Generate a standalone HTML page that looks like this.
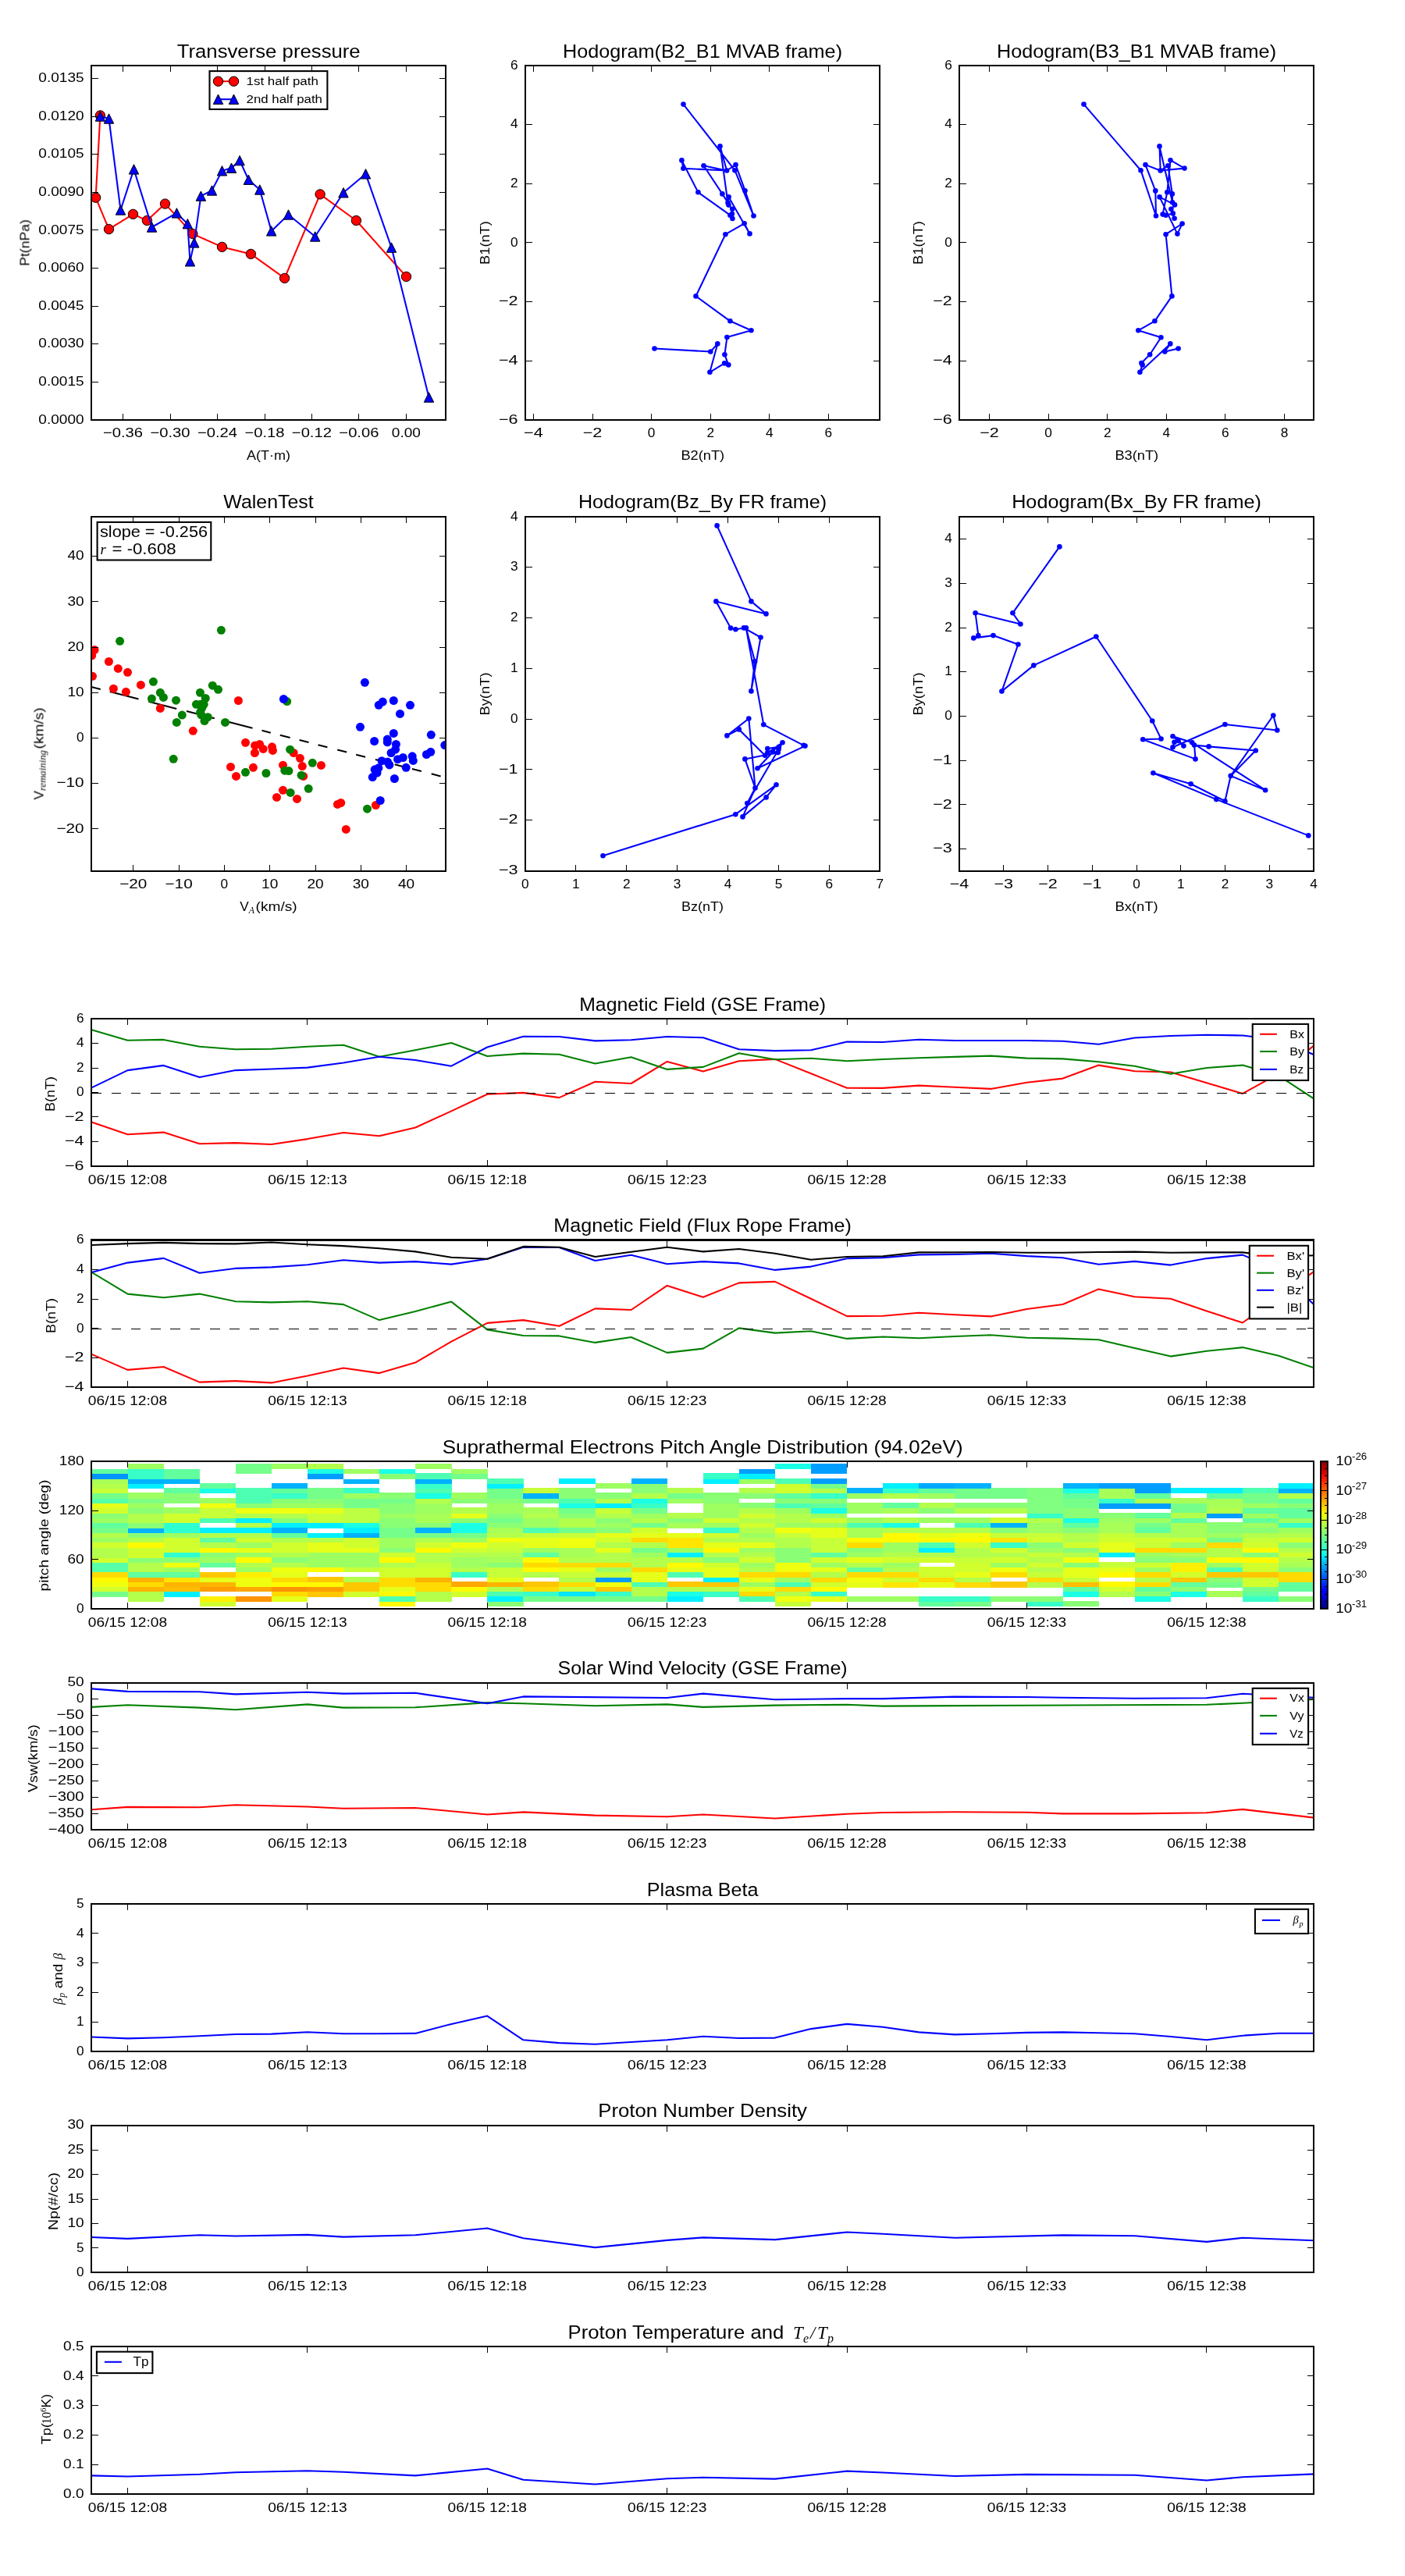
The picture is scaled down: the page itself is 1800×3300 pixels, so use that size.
<!DOCTYPE html>
<html><head><meta charset="utf-8"><title>Flux rope event</title>
<style>html,body{margin:0;padding:0;background:#fff}svg{display:block;will-change:transform}text{font-family:"Liberation Sans",sans-serif;fill:#000}</style>
</head><body>
<svg width="1800" height="3300" viewBox="0 0 1800 3300">
<rect width="1800" height="3300" fill="#fff"/>
<g opacity="0.999">
<defs>
<clipPath id="c1"><rect x="117.24" y="84" width="453.65999999999997" height="453.9"/></clipPath>
<clipPath id="c2"><rect x="673.2" y="84" width="453.64999999999986" height="453.9"/></clipPath>
<clipPath id="c3"><rect x="1229.35" y="84" width="453.6500000000001" height="453.9"/></clipPath>
<clipPath id="c4"><rect x="117.24" y="661.9" width="453.65999999999997" height="454.0000000000001"/></clipPath>
<clipPath id="c5"><rect x="673.2" y="661.9" width="453.64999999999986" height="454.0000000000001"/></clipPath>
<clipPath id="c6"><rect x="1229.35" y="661.9" width="453.6500000000001" height="454.0000000000001"/></clipPath>
</defs>
<g id="p1">
<g clip-path="url(#c1)">
<polyline points="128.4,147.9 122.6,253.2 139.5,293.6 170.5,274.4 188.4,282.5 211.5,261.1 246.9,299.6 284.5,316.4 321.4,325.4 364.6,356.4 410.1,248.9 456.4,282.5 520.5,354.4" fill="none" stroke="#f00" stroke-width="2.08" stroke-linejoin="round"/>
<circle cx="128.4" cy="147.9" r="6.2" fill="#f00" stroke="#000" stroke-width="1"/>
<circle cx="122.6" cy="253.2" r="6.2" fill="#f00" stroke="#000" stroke-width="1"/>
<circle cx="139.5" cy="293.6" r="6.2" fill="#f00" stroke="#000" stroke-width="1"/>
<circle cx="170.5" cy="274.4" r="6.2" fill="#f00" stroke="#000" stroke-width="1"/>
<circle cx="188.4" cy="282.5" r="6.2" fill="#f00" stroke="#000" stroke-width="1"/>
<circle cx="211.5" cy="261.1" r="6.2" fill="#f00" stroke="#000" stroke-width="1"/>
<circle cx="246.9" cy="299.6" r="6.2" fill="#f00" stroke="#000" stroke-width="1"/>
<circle cx="284.5" cy="316.4" r="6.2" fill="#f00" stroke="#000" stroke-width="1"/>
<circle cx="321.4" cy="325.4" r="6.2" fill="#f00" stroke="#000" stroke-width="1"/>
<circle cx="364.6" cy="356.4" r="6.2" fill="#f00" stroke="#000" stroke-width="1"/>
<circle cx="410.1" cy="248.9" r="6.2" fill="#f00" stroke="#000" stroke-width="1"/>
<circle cx="456.4" cy="282.5" r="6.2" fill="#f00" stroke="#000" stroke-width="1"/>
<circle cx="520.5" cy="354.4" r="6.2" fill="#f00" stroke="#000" stroke-width="1"/>
<polyline points="128.4,149.0 139.5,152.0 154.5,269.0 171.5,216.9 194.6,291.0 226.4,272.9 240.3,286.7 243.5,334.8 248.8,310.9 257.4,251.1 271.5,244.0 284.5,218.8 296.5,215.2 307.1,205.6 318.4,230.2 332.8,243.0 347.7,295.9 369.5,275.0 403.7,303.0 440.0,246.8 468.5,222.8 501.5,317.1 549.5,509.0" fill="none" stroke="#00f" stroke-width="2.08" stroke-linejoin="round"/>
<path d="M128.4 142.8l6.2 12.4h-12.4z" fill="#00f" stroke="#000" stroke-width="1"/>
<path d="M139.5 145.8l6.2 12.4h-12.4z" fill="#00f" stroke="#000" stroke-width="1"/>
<path d="M154.5 262.8l6.2 12.4h-12.4z" fill="#00f" stroke="#000" stroke-width="1"/>
<path d="M171.5 210.7l6.2 12.4h-12.4z" fill="#00f" stroke="#000" stroke-width="1"/>
<path d="M194.6 284.8l6.2 12.4h-12.4z" fill="#00f" stroke="#000" stroke-width="1"/>
<path d="M226.4 266.7l6.2 12.4h-12.4z" fill="#00f" stroke="#000" stroke-width="1"/>
<path d="M240.3 280.5l6.2 12.4h-12.4z" fill="#00f" stroke="#000" stroke-width="1"/>
<path d="M243.5 328.6l6.2 12.4h-12.4z" fill="#00f" stroke="#000" stroke-width="1"/>
<path d="M248.8 304.7l6.2 12.4h-12.4z" fill="#00f" stroke="#000" stroke-width="1"/>
<path d="M257.4 244.9l6.2 12.4h-12.4z" fill="#00f" stroke="#000" stroke-width="1"/>
<path d="M271.5 237.8l6.2 12.4h-12.4z" fill="#00f" stroke="#000" stroke-width="1"/>
<path d="M284.5 212.6l6.2 12.4h-12.4z" fill="#00f" stroke="#000" stroke-width="1"/>
<path d="M296.5 209.0l6.2 12.4h-12.4z" fill="#00f" stroke="#000" stroke-width="1"/>
<path d="M307.1 199.4l6.2 12.4h-12.4z" fill="#00f" stroke="#000" stroke-width="1"/>
<path d="M318.4 224.0l6.2 12.4h-12.4z" fill="#00f" stroke="#000" stroke-width="1"/>
<path d="M332.8 236.8l6.2 12.4h-12.4z" fill="#00f" stroke="#000" stroke-width="1"/>
<path d="M347.7 289.7l6.2 12.4h-12.4z" fill="#00f" stroke="#000" stroke-width="1"/>
<path d="M369.5 268.8l6.2 12.4h-12.4z" fill="#00f" stroke="#000" stroke-width="1"/>
<path d="M403.7 296.8l6.2 12.4h-12.4z" fill="#00f" stroke="#000" stroke-width="1"/>
<path d="M440.0 240.6l6.2 12.4h-12.4z" fill="#00f" stroke="#000" stroke-width="1"/>
<path d="M468.5 216.6l6.2 12.4h-12.4z" fill="#00f" stroke="#000" stroke-width="1"/>
<path d="M501.5 310.9l6.2 12.4h-12.4z" fill="#00f" stroke="#000" stroke-width="1"/>
<path d="M549.5 502.8l6.2 12.4h-12.4z" fill="#00f" stroke="#000" stroke-width="1"/>
</g>
<path d="M157.5 537.9v-8.3M157.5 84.0v8.3M218.0 537.9v-8.3M218.0 84.0v8.3M278.5 537.9v-8.3M278.5 84.0v8.3M339.0 537.9v-8.3M339.0 84.0v8.3M399.4 537.9v-8.3M399.4 84.0v8.3M459.9 537.9v-8.3M459.9 84.0v8.3M520.4 537.9v-8.3M520.4 84.0v8.3M117.2 537.9h8.3M570.9 537.9h-8.3M117.2 489.3h8.3M570.9 489.3h-8.3M117.2 440.7h8.3M570.9 440.7h-8.3M117.2 392.1h8.3M570.9 392.1h-8.3M117.2 343.5h8.3M570.9 343.5h-8.3M117.2 294.9h8.3M570.9 294.9h-8.3M117.2 246.3h8.3M570.9 246.3h-8.3M117.2 197.7h8.3M570.9 197.7h-8.3M117.2 149.1h8.3M570.9 149.1h-8.3M117.2 100.5h8.3M570.9 100.5h-8.3" stroke="#000" stroke-width="1" fill="none" shape-rendering="crispEdges"/>
<rect x="117.2" y="84.0" width="453.7" height="453.9" fill="none" stroke="#000" stroke-width="2.08" shape-rendering="crispEdges"/>
<text x="157.5" y="559.9" font-size="17.25" text-anchor="middle" textLength="51.1" lengthAdjust="spacingAndGlyphs">−0.36</text>
<text x="218.0" y="559.9" font-size="17.25" text-anchor="middle" textLength="51.1" lengthAdjust="spacingAndGlyphs">−0.30</text>
<text x="278.5" y="559.9" font-size="17.25" text-anchor="middle" textLength="51.1" lengthAdjust="spacingAndGlyphs">−0.24</text>
<text x="339.0" y="559.9" font-size="17.25" text-anchor="middle" textLength="51.1" lengthAdjust="spacingAndGlyphs">−0.18</text>
<text x="399.4" y="559.9" font-size="17.25" text-anchor="middle" textLength="51.1" lengthAdjust="spacingAndGlyphs">−0.12</text>
<text x="459.9" y="559.9" font-size="17.25" text-anchor="middle" textLength="51.1" lengthAdjust="spacingAndGlyphs">−0.06</text>
<text x="520.4" y="559.9" font-size="17.25" text-anchor="middle" textLength="37.1" lengthAdjust="spacingAndGlyphs">0.00</text>
<text x="107.6" y="542.6" font-size="17.25" text-anchor="end" textLength="58.3" lengthAdjust="spacingAndGlyphs">0.0000</text>
<text x="107.6" y="494.0" font-size="17.25" text-anchor="end" textLength="58.3" lengthAdjust="spacingAndGlyphs">0.0015</text>
<text x="107.6" y="445.4" font-size="17.25" text-anchor="end" textLength="58.3" lengthAdjust="spacingAndGlyphs">0.0030</text>
<text x="107.6" y="396.8" font-size="17.25" text-anchor="end" textLength="58.3" lengthAdjust="spacingAndGlyphs">0.0045</text>
<text x="107.6" y="348.2" font-size="17.25" text-anchor="end" textLength="58.3" lengthAdjust="spacingAndGlyphs">0.0060</text>
<text x="107.6" y="299.6" font-size="17.25" text-anchor="end" textLength="58.3" lengthAdjust="spacingAndGlyphs">0.0075</text>
<text x="107.6" y="251.0" font-size="17.25" text-anchor="end" textLength="58.3" lengthAdjust="spacingAndGlyphs">0.0090</text>
<text x="107.6" y="202.4" font-size="17.25" text-anchor="end" textLength="58.3" lengthAdjust="spacingAndGlyphs">0.0105</text>
<text x="107.6" y="153.8" font-size="17.25" text-anchor="end" textLength="58.3" lengthAdjust="spacingAndGlyphs">0.0120</text>
<text x="107.6" y="105.2" font-size="17.25" text-anchor="end" textLength="58.3" lengthAdjust="spacingAndGlyphs">0.0135</text>
<text x="344.2" y="73.7" font-size="23.72" text-anchor="middle" textLength="235.0" lengthAdjust="spacingAndGlyphs">Transverse pressure</text>
<text x="344.0" y="588.8" font-size="17.25" text-anchor="middle" textLength="56.1" lengthAdjust="spacingAndGlyphs">A(T·m)</text>
<text x="37.5" y="311.0" font-size="17.25" text-anchor="middle" transform="rotate(-90 37.5 311.0)" textLength="59.7" lengthAdjust="spacingAndGlyphs">Pt(nPa)</text>
<rect x="268.5" y="91.1" width="150.9" height="48.9" fill="#fff" stroke="#000" stroke-width="2.08"/>
<line x1="279.5" y1="104.2" x2="299.5" y2="104.2" stroke="#f00" stroke-width="2.08"/>
<circle cx="279.5" cy="104.2" r="6.2" fill="#f00" stroke="#000" stroke-width="1"/>
<circle cx="299.5" cy="104.2" r="6.2" fill="#f00" stroke="#000" stroke-width="1"/>
<line x1="279.5" y1="127.2" x2="299.5" y2="127.2" stroke="#00f" stroke-width="2.08"/>
<path d="M279.5 121.0l6.2 12.4h-12.4z" fill="#00f" stroke="#000" stroke-width="1"/>
<path d="M299.5 121.0l6.2 12.4h-12.4z" fill="#00f" stroke="#000" stroke-width="1"/>
<text x="315.5" y="108.7" font-size="15.09" textLength="92.4" lengthAdjust="spacingAndGlyphs">1st half path</text>
<text x="315.5" y="131.5" font-size="15.09" textLength="97.5" lengthAdjust="spacingAndGlyphs">2nd half path</text>
</g>
<g id="p2">
<g clip-path="url(#c2)">
<path d="M875.5 133.6L941.4 218.2L965.5 276.5L954.5 244.2L942.5 211.1L931.1 218.5L922.5 187.4L932.5 259.8M931.1 218.5L901.5 212.2L925.4 248.4L932.5 259.8L933.4 262.6L938.2 267.7L937.9 274.0L938.4 280.0M931.1 218.5L875.4 215.7L873.4 205.4L894.4 246.3L935.4 275.7L937.9 274.0M933.6 252.4L932.5 259.8M933.6 252.4L960.5 299.4L953.6 286.3L929.4 300.2L891.5 379.4L935.4 411.3L962.4 423.3L931.4 432.1L928.4 454.3L933.3 467.4L928.2 465.4L909.4 476.8L919.3 440.4L910.3 450.5L838.5 446.5" fill="none" stroke="#00f" stroke-width="2.08" stroke-linejoin="round" stroke-linecap="round"/>
<circle cx="875.5" cy="133.6" r="3.3" fill="#00f"/>
<circle cx="922.5" cy="187.4" r="3.3" fill="#00f"/>
<circle cx="873.4" cy="205.4" r="3.3" fill="#00f"/>
<circle cx="875.4" cy="215.7" r="3.3" fill="#00f"/>
<circle cx="901.5" cy="212.2" r="3.3" fill="#00f"/>
<circle cx="931.1" cy="218.5" r="3.3" fill="#00f"/>
<circle cx="942.5" cy="211.1" r="3.3" fill="#00f"/>
<circle cx="941.4" cy="218.2" r="3.3" fill="#00f"/>
<circle cx="954.5" cy="244.2" r="3.3" fill="#00f"/>
<circle cx="894.4" cy="246.3" r="3.3" fill="#00f"/>
<circle cx="925.4" cy="248.4" r="3.3" fill="#00f"/>
<circle cx="933.6" cy="252.4" r="3.3" fill="#00f"/>
<circle cx="932.5" cy="259.8" r="3.3" fill="#00f"/>
<circle cx="933.4" cy="262.6" r="3.3" fill="#00f"/>
<circle cx="938.2" cy="267.7" r="3.3" fill="#00f"/>
<circle cx="937.9" cy="274.0" r="3.3" fill="#00f"/>
<circle cx="935.4" cy="275.7" r="3.3" fill="#00f"/>
<circle cx="938.4" cy="280.0" r="3.3" fill="#00f"/>
<circle cx="965.5" cy="276.5" r="3.3" fill="#00f"/>
<circle cx="953.6" cy="286.3" r="3.3" fill="#00f"/>
<circle cx="960.5" cy="299.4" r="3.3" fill="#00f"/>
<circle cx="929.4" cy="300.2" r="3.3" fill="#00f"/>
<circle cx="891.5" cy="379.4" r="3.3" fill="#00f"/>
<circle cx="935.4" cy="411.3" r="3.3" fill="#00f"/>
<circle cx="962.4" cy="423.3" r="3.3" fill="#00f"/>
<circle cx="931.4" cy="432.1" r="3.3" fill="#00f"/>
<circle cx="928.4" cy="454.3" r="3.3" fill="#00f"/>
<circle cx="933.3" cy="467.4" r="3.3" fill="#00f"/>
<circle cx="928.2" cy="465.4" r="3.3" fill="#00f"/>
<circle cx="909.4" cy="476.8" r="3.3" fill="#00f"/>
<circle cx="919.3" cy="440.4" r="3.3" fill="#00f"/>
<circle cx="910.3" cy="450.5" r="3.3" fill="#00f"/>
<circle cx="838.5" cy="446.5" r="3.3" fill="#00f"/>
</g>
<path d="M683.4 537.9v-8.3M683.4 84.0v8.3M759.0 537.9v-8.3M759.0 84.0v8.3M834.6 537.9v-8.3M834.6 84.0v8.3M910.2 537.9v-8.3M910.2 84.0v8.3M985.8 537.9v-8.3M985.8 84.0v8.3M1061.4 537.9v-8.3M1061.4 84.0v8.3M673.2 84.0h8.3M1126.8 84.0h-8.3M673.2 159.6h8.3M1126.8 159.6h-8.3M673.2 235.3h8.3M1126.8 235.3h-8.3M673.2 310.9h8.3M1126.8 310.9h-8.3M673.2 386.6h8.3M1126.8 386.6h-8.3M673.2 462.2h8.3M1126.8 462.2h-8.3M673.2 537.9h8.3M1126.8 537.9h-8.3" stroke="#000" stroke-width="1" fill="none" shape-rendering="crispEdges"/>
<rect x="673.2" y="84.0" width="453.6" height="453.9" fill="none" stroke="#000" stroke-width="2.08" shape-rendering="crispEdges"/>
<text x="683.4" y="559.9" font-size="17.25" text-anchor="middle" textLength="24.6" lengthAdjust="spacingAndGlyphs">−4</text>
<text x="759.0" y="559.9" font-size="17.25" text-anchor="middle" textLength="24.6" lengthAdjust="spacingAndGlyphs">−2</text>
<text x="834.6" y="559.9" font-size="17.25" text-anchor="middle">0</text>
<text x="910.2" y="559.9" font-size="17.25" text-anchor="middle">2</text>
<text x="985.8" y="559.9" font-size="17.25" text-anchor="middle">4</text>
<text x="1061.4" y="559.9" font-size="17.25" text-anchor="middle">6</text>
<text x="663.6" y="88.7" font-size="17.25" text-anchor="end">6</text>
<text x="663.6" y="164.3" font-size="17.25" text-anchor="end">4</text>
<text x="663.6" y="240.0" font-size="17.25" text-anchor="end">2</text>
<text x="663.6" y="315.6" font-size="17.25" text-anchor="end">0</text>
<text x="663.6" y="391.3" font-size="17.25" text-anchor="end" textLength="24.6" lengthAdjust="spacingAndGlyphs">−2</text>
<text x="663.6" y="466.9" font-size="17.25" text-anchor="end" textLength="24.6" lengthAdjust="spacingAndGlyphs">−4</text>
<text x="663.6" y="542.6" font-size="17.25" text-anchor="end" textLength="24.6" lengthAdjust="spacingAndGlyphs">−6</text>
<text x="900.0" y="73.5" font-size="23.72" text-anchor="middle" textLength="358.1" lengthAdjust="spacingAndGlyphs">Hodogram(B2_B1 MVAB frame)</text>
<text x="900.3" y="588.8" font-size="17.25" text-anchor="middle" textLength="55.8" lengthAdjust="spacingAndGlyphs">B2(nT)</text>
<text x="627.0" y="311.0" font-size="17.25" text-anchor="middle" transform="rotate(-90 627.0 311.0)" textLength="55.8" lengthAdjust="spacingAndGlyphs">B1(nT)</text>
</g>
<g id="p3">
<g clip-path="url(#c3)">
<path d="M1388.5 133.6L1461.5 218.2L1481.0 276.5L1480.3 244.4L1467.5 211.1L1486.7 218.5L1485.5 187.4L1502.1 259.2M1486.7 218.5L1517.5 215.6L1499.5 205.2L1495.3 246.3L1489.6 274.6L1493.6 275.7M1486.7 218.5L1496.4 212.2L1501.8 248.4L1502.1 259.2L1505.0 262.4L1500.4 267.7L1502.7 273.4L1504.6 279.7M1493.6 275.7L1502.7 273.4M1485.6 252.4L1505.0 262.4M1485.6 252.4L1508.4 299.6L1514.6 286.5L1493.6 300.2L1501.4 379.4L1479.4 411.3L1458.3 423.3L1487.4 432.3L1473.1 454.3L1462.4 465.1L1463.6 467.4L1460.4 476.8L1499.3 440.4L1492.3 450.5L1509.6 446.5" fill="none" stroke="#00f" stroke-width="2.08" stroke-linejoin="round" stroke-linecap="round"/>
<circle cx="1388.5" cy="133.6" r="3.3" fill="#00f"/>
<circle cx="1461.5" cy="218.2" r="3.3" fill="#00f"/>
<circle cx="1481.0" cy="276.5" r="3.3" fill="#00f"/>
<circle cx="1480.3" cy="244.4" r="3.3" fill="#00f"/>
<circle cx="1467.5" cy="211.1" r="3.3" fill="#00f"/>
<circle cx="1486.7" cy="218.5" r="3.3" fill="#00f"/>
<circle cx="1485.5" cy="187.4" r="3.3" fill="#00f"/>
<circle cx="1496.4" cy="212.2" r="3.3" fill="#00f"/>
<circle cx="1499.5" cy="205.2" r="3.3" fill="#00f"/>
<circle cx="1517.5" cy="215.6" r="3.3" fill="#00f"/>
<circle cx="1495.3" cy="246.3" r="3.3" fill="#00f"/>
<circle cx="1501.8" cy="248.4" r="3.3" fill="#00f"/>
<circle cx="1485.6" cy="252.4" r="3.3" fill="#00f"/>
<circle cx="1502.1" cy="259.2" r="3.3" fill="#00f"/>
<circle cx="1505.0" cy="262.4" r="3.3" fill="#00f"/>
<circle cx="1500.4" cy="267.7" r="3.3" fill="#00f"/>
<circle cx="1502.7" cy="273.4" r="3.3" fill="#00f"/>
<circle cx="1489.6" cy="274.6" r="3.3" fill="#00f"/>
<circle cx="1493.6" cy="275.7" r="3.3" fill="#00f"/>
<circle cx="1504.6" cy="279.7" r="3.3" fill="#00f"/>
<circle cx="1514.6" cy="286.5" r="3.3" fill="#00f"/>
<circle cx="1508.4" cy="299.6" r="3.3" fill="#00f"/>
<circle cx="1493.6" cy="300.2" r="3.3" fill="#00f"/>
<circle cx="1501.4" cy="379.4" r="3.3" fill="#00f"/>
<circle cx="1479.4" cy="411.3" r="3.3" fill="#00f"/>
<circle cx="1458.3" cy="423.3" r="3.3" fill="#00f"/>
<circle cx="1487.4" cy="432.3" r="3.3" fill="#00f"/>
<circle cx="1473.1" cy="454.3" r="3.3" fill="#00f"/>
<circle cx="1462.4" cy="465.1" r="3.3" fill="#00f"/>
<circle cx="1463.6" cy="467.4" r="3.3" fill="#00f"/>
<circle cx="1460.4" cy="476.8" r="3.3" fill="#00f"/>
<circle cx="1499.3" cy="440.4" r="3.3" fill="#00f"/>
<circle cx="1492.3" cy="450.5" r="3.3" fill="#00f"/>
<circle cx="1509.6" cy="446.5" r="3.3" fill="#00f"/>
</g>
<path d="M1267.5 537.9v-8.3M1267.5 84.0v8.3M1343.1 537.9v-8.3M1343.1 84.0v8.3M1418.7 537.9v-8.3M1418.7 84.0v8.3M1494.3 537.9v-8.3M1494.3 84.0v8.3M1569.9 537.9v-8.3M1569.9 84.0v8.3M1645.5 537.9v-8.3M1645.5 84.0v8.3M1229.3 84.0h8.3M1683.0 84.0h-8.3M1229.3 159.6h8.3M1683.0 159.6h-8.3M1229.3 235.3h8.3M1683.0 235.3h-8.3M1229.3 310.9h8.3M1683.0 310.9h-8.3M1229.3 386.6h8.3M1683.0 386.6h-8.3M1229.3 462.2h8.3M1683.0 462.2h-8.3M1229.3 537.9h8.3M1683.0 537.9h-8.3" stroke="#000" stroke-width="1" fill="none" shape-rendering="crispEdges"/>
<rect x="1229.3" y="84.0" width="453.7" height="453.9" fill="none" stroke="#000" stroke-width="2.08" shape-rendering="crispEdges"/>
<text x="1267.5" y="559.9" font-size="17.25" text-anchor="middle" textLength="24.6" lengthAdjust="spacingAndGlyphs">−2</text>
<text x="1343.1" y="559.9" font-size="17.25" text-anchor="middle">0</text>
<text x="1418.7" y="559.9" font-size="17.25" text-anchor="middle">2</text>
<text x="1494.3" y="559.9" font-size="17.25" text-anchor="middle">4</text>
<text x="1569.9" y="559.9" font-size="17.25" text-anchor="middle">6</text>
<text x="1645.5" y="559.9" font-size="17.25" text-anchor="middle">8</text>
<text x="1219.8" y="88.7" font-size="17.25" text-anchor="end">6</text>
<text x="1219.8" y="164.3" font-size="17.25" text-anchor="end">4</text>
<text x="1219.8" y="240.0" font-size="17.25" text-anchor="end">2</text>
<text x="1219.8" y="315.6" font-size="17.25" text-anchor="end">0</text>
<text x="1219.8" y="391.3" font-size="17.25" text-anchor="end" textLength="24.6" lengthAdjust="spacingAndGlyphs">−2</text>
<text x="1219.8" y="466.9" font-size="17.25" text-anchor="end" textLength="24.6" lengthAdjust="spacingAndGlyphs">−4</text>
<text x="1219.8" y="542.6" font-size="17.25" text-anchor="end" textLength="24.6" lengthAdjust="spacingAndGlyphs">−6</text>
<text x="1456.0" y="73.5" font-size="23.72" text-anchor="middle" textLength="358.1" lengthAdjust="spacingAndGlyphs">Hodogram(B3_B1 MVAB frame)</text>
<text x="1456.3" y="588.8" font-size="17.25" text-anchor="middle" textLength="55.8" lengthAdjust="spacingAndGlyphs">B3(nT)</text>
<text x="1182.0" y="311.0" font-size="17.25" text-anchor="middle" transform="rotate(-90 1182.0 311.0)" textLength="55.8" lengthAdjust="spacingAndGlyphs">B1(nT)</text>
</g>
<g id="p4">
<g clip-path="url(#c4)">
<path d="M116.8 879.9L128.8 883.0M140.7 886.0L177.5 895.4M190.3 898.7L226.2 907.9M239.0 911.1L274.8 920.3M287.7 923.6L323.5 932.7M335.5 935.8L346.8 938.7M358.8 941.8L371.6 945.0M383.6 948.1L395.5 951.1M407.5 954.2L419.4 957.2M432.2 960.5L444.2 963.6M456.2 966.7L468.1 969.7M480.9 973.0L492.9 976.0M505.7 979.3L517.7 982.4M527.9 985.0L539.9 988.0M552.7 991.3L564.6 994.4" stroke="#000" stroke-width="2.08" fill="none"/>
<circle cx="121.1" cy="832.6" r="5.5" fill="#f00"/>
<circle cx="117.7" cy="839.8" r="5.5" fill="#f00"/>
<circle cx="118.5" cy="866.3" r="5.5" fill="#f00"/>
<circle cx="139.4" cy="847.5" r="5.5" fill="#f00"/>
<circle cx="151.3" cy="856.4" r="5.5" fill="#f00"/>
<circle cx="163.5" cy="861.3" r="5.5" fill="#f00"/>
<circle cx="180.4" cy="877.4" r="5.5" fill="#f00"/>
<circle cx="145.4" cy="882.2" r="5.5" fill="#f00"/>
<circle cx="161.4" cy="886.3" r="5.5" fill="#f00"/>
<circle cx="205.3" cy="907.4" r="5.5" fill="#f00"/>
<circle cx="305.4" cy="897.5" r="5.5" fill="#f00"/>
<circle cx="247.3" cy="936.3" r="5.5" fill="#f00"/>
<circle cx="314.5" cy="951.3" r="5.5" fill="#f00"/>
<circle cx="326.6" cy="955.1" r="5.5" fill="#f00"/>
<circle cx="332.6" cy="953.4" r="5.5" fill="#f00"/>
<circle cx="337.2" cy="959.4" r="5.5" fill="#f00"/>
<circle cx="326.4" cy="964.5" r="5.5" fill="#f00"/>
<circle cx="295.5" cy="982.4" r="5.5" fill="#f00"/>
<circle cx="324.4" cy="983.3" r="5.5" fill="#f00"/>
<circle cx="302.5" cy="994.4" r="5.5" fill="#f00"/>
<circle cx="348.5" cy="956.8" r="5.5" fill="#f00"/>
<circle cx="349.4" cy="961.4" r="5.5" fill="#f00"/>
<circle cx="376.2" cy="964.5" r="5.5" fill="#f00"/>
<circle cx="384.4" cy="971.3" r="5.5" fill="#f00"/>
<circle cx="387.3" cy="981.6" r="5.5" fill="#f00"/>
<circle cx="362.5" cy="980.2" r="5.5" fill="#f00"/>
<circle cx="411.4" cy="980.4" r="5.5" fill="#f00"/>
<circle cx="388.7" cy="994.4" r="5.5" fill="#f00"/>
<circle cx="362.5" cy="1012.3" r="5.5" fill="#f00"/>
<circle cx="354.5" cy="1021.4" r="5.5" fill="#f00"/>
<circle cx="380.5" cy="1023.4" r="5.5" fill="#f00"/>
<circle cx="432.4" cy="1030.4" r="5.5" fill="#f00"/>
<circle cx="436.7" cy="1028.5" r="5.5" fill="#f00"/>
<circle cx="481.4" cy="1031.5" r="5.5" fill="#f00"/>
<circle cx="443.3" cy="1062.4" r="5.5" fill="#f00"/>
<circle cx="153.6" cy="821.3" r="5.5" fill="#008000"/>
<circle cx="283.4" cy="807.3" r="5.5" fill="#008000"/>
<circle cx="196.4" cy="873.3" r="5.5" fill="#008000"/>
<circle cx="205.3" cy="887.3" r="5.5" fill="#008000"/>
<circle cx="209.4" cy="893.4" r="5.5" fill="#008000"/>
<circle cx="194.4" cy="895.1" r="5.5" fill="#008000"/>
<circle cx="225.5" cy="897.2" r="5.5" fill="#008000"/>
<circle cx="272.3" cy="878.2" r="5.5" fill="#008000"/>
<circle cx="279.5" cy="883.3" r="5.5" fill="#008000"/>
<circle cx="256.4" cy="887.3" r="5.5" fill="#008000"/>
<circle cx="263.2" cy="894.5" r="5.5" fill="#008000"/>
<circle cx="251.4" cy="902.3" r="5.5" fill="#008000"/>
<circle cx="256.9" cy="902.3" r="5.5" fill="#008000"/>
<circle cx="261.2" cy="902.3" r="5.5" fill="#008000"/>
<circle cx="258.6" cy="907.3" r="5.5" fill="#008000"/>
<circle cx="256.6" cy="912.4" r="5.5" fill="#008000"/>
<circle cx="257.8" cy="915.8" r="5.5" fill="#008000"/>
<circle cx="266.3" cy="918.7" r="5.5" fill="#008000"/>
<circle cx="262.0" cy="923.5" r="5.5" fill="#008000"/>
<circle cx="233.3" cy="916.1" r="5.5" fill="#008000"/>
<circle cx="226.3" cy="925.4" r="5.5" fill="#008000"/>
<circle cx="288.5" cy="925.4" r="5.5" fill="#008000"/>
<circle cx="222.2" cy="972.3" r="5.5" fill="#008000"/>
<circle cx="314.5" cy="989.3" r="5.5" fill="#008000"/>
<circle cx="371.6" cy="960.2" r="5.5" fill="#008000"/>
<circle cx="400.3" cy="977.3" r="5.5" fill="#008000"/>
<circle cx="364.8" cy="987.2" r="5.5" fill="#008000"/>
<circle cx="369.9" cy="987.6" r="5.5" fill="#008000"/>
<circle cx="340.9" cy="990.5" r="5.5" fill="#008000"/>
<circle cx="386.1" cy="993.2" r="5.5" fill="#008000"/>
<circle cx="395.2" cy="1010.3" r="5.5" fill="#008000"/>
<circle cx="372.1" cy="1015.4" r="5.5" fill="#008000"/>
<circle cx="367.7" cy="898.6" r="5.5" fill="#008000"/>
<circle cx="470.5" cy="1036.2" r="5.5" fill="#008000"/>
<circle cx="363.4" cy="895.5" r="5.5" fill="#00f"/>
<circle cx="467.4" cy="874.3" r="5.5" fill="#00f"/>
<circle cx="485.2" cy="903.3" r="5.5" fill="#00f"/>
<circle cx="490.3" cy="899.1" r="5.5" fill="#00f"/>
<circle cx="504.3" cy="897.5" r="5.5" fill="#00f"/>
<circle cx="525.5" cy="903.3" r="5.5" fill="#00f"/>
<circle cx="512.5" cy="914.4" r="5.5" fill="#00f"/>
<circle cx="461.5" cy="931.3" r="5.5" fill="#00f"/>
<circle cx="504.3" cy="939.4" r="5.5" fill="#00f"/>
<circle cx="552.3" cy="941.3" r="5.5" fill="#00f"/>
<circle cx="479.6" cy="949.5" r="5.5" fill="#00f"/>
<circle cx="496.3" cy="947.1" r="5.5" fill="#00f"/>
<circle cx="496.3" cy="950.8" r="5.5" fill="#00f"/>
<circle cx="507.4" cy="953.4" r="5.5" fill="#00f"/>
<circle cx="506.6" cy="960.2" r="5.5" fill="#00f"/>
<circle cx="501.1" cy="964.5" r="5.5" fill="#00f"/>
<circle cx="569.8" cy="954.6" r="5.5" fill="#00f"/>
<circle cx="551.8" cy="963.3" r="5.5" fill="#00f"/>
<circle cx="546.4" cy="966.5" r="5.5" fill="#00f"/>
<circle cx="528.2" cy="968.8" r="5.5" fill="#00f"/>
<circle cx="529.3" cy="974.4" r="5.5" fill="#00f"/>
<circle cx="516.3" cy="970.5" r="5.5" fill="#00f"/>
<circle cx="509.5" cy="972.7" r="5.5" fill="#00f"/>
<circle cx="489.1" cy="974.7" r="5.5" fill="#00f"/>
<circle cx="496.6" cy="976.1" r="5.5" fill="#00f"/>
<circle cx="498.9" cy="979.9" r="5.5" fill="#00f"/>
<circle cx="520.2" cy="983.3" r="5.5" fill="#00f"/>
<circle cx="484.9" cy="983.8" r="5.5" fill="#00f"/>
<circle cx="480.1" cy="985.8" r="5.5" fill="#00f"/>
<circle cx="483.1" cy="990.1" r="5.5" fill="#00f"/>
<circle cx="477.3" cy="995.6" r="5.5" fill="#00f"/>
<circle cx="505.4" cy="997.5" r="5.5" fill="#00f"/>
<circle cx="487.2" cy="1025.5" r="5.5" fill="#00f"/>
</g>
<path d="M170.8 1115.9v-8.3M170.8 661.9v8.3M229.1 1115.9v-8.3M229.1 661.9v8.3M287.4 1115.9v-8.3M287.4 661.9v8.3M345.7 1115.9v-8.3M345.7 661.9v8.3M404.0 1115.9v-8.3M404.0 661.9v8.3M462.3 1115.9v-8.3M462.3 661.9v8.3M520.6 1115.9v-8.3M520.6 661.9v8.3M117.2 712.6h8.3M570.9 712.6h-8.3M117.2 770.8h8.3M570.9 770.8h-8.3M117.2 829.0h8.3M570.9 829.0h-8.3M117.2 887.2h8.3M570.9 887.2h-8.3M117.2 945.4h8.3M570.9 945.4h-8.3M117.2 1003.6h8.3M570.9 1003.6h-8.3M117.2 1061.8h8.3M570.9 1061.8h-8.3" stroke="#000" stroke-width="1" fill="none" shape-rendering="crispEdges"/>
<rect x="117.2" y="661.9" width="453.7" height="454.0" fill="none" stroke="#000" stroke-width="2.08" shape-rendering="crispEdges"/>
<text x="170.8" y="1137.9" font-size="17.25" text-anchor="middle" textLength="35.2" lengthAdjust="spacingAndGlyphs">−20</text>
<text x="229.1" y="1137.9" font-size="17.25" text-anchor="middle" textLength="35.2" lengthAdjust="spacingAndGlyphs">−10</text>
<text x="287.4" y="1137.9" font-size="17.25" text-anchor="middle">0</text>
<text x="345.7" y="1137.9" font-size="17.25" text-anchor="middle" textLength="21.2" lengthAdjust="spacingAndGlyphs">10</text>
<text x="404.0" y="1137.9" font-size="17.25" text-anchor="middle" textLength="21.2" lengthAdjust="spacingAndGlyphs">20</text>
<text x="462.3" y="1137.9" font-size="17.25" text-anchor="middle" textLength="21.2" lengthAdjust="spacingAndGlyphs">30</text>
<text x="520.6" y="1137.9" font-size="17.25" text-anchor="middle" textLength="21.2" lengthAdjust="spacingAndGlyphs">40</text>
<text x="107.6" y="717.3" font-size="17.25" text-anchor="end" textLength="21.2" lengthAdjust="spacingAndGlyphs">40</text>
<text x="107.6" y="775.5" font-size="17.25" text-anchor="end" textLength="21.2" lengthAdjust="spacingAndGlyphs">30</text>
<text x="107.6" y="833.7" font-size="17.25" text-anchor="end" textLength="21.2" lengthAdjust="spacingAndGlyphs">20</text>
<text x="107.6" y="891.9" font-size="17.25" text-anchor="end" textLength="21.2" lengthAdjust="spacingAndGlyphs">10</text>
<text x="107.6" y="950.1" font-size="17.25" text-anchor="end">0</text>
<text x="107.6" y="1008.3" font-size="17.25" text-anchor="end" textLength="35.2" lengthAdjust="spacingAndGlyphs">−10</text>
<text x="107.6" y="1066.5" font-size="17.25" text-anchor="end" textLength="35.2" lengthAdjust="spacingAndGlyphs">−20</text>
<text x="344.0" y="651.4" font-size="23.72" text-anchor="middle" textLength="115.4" lengthAdjust="spacingAndGlyphs">WalenTest</text>
<rect x="124.6" y="668.9" width="145.7" height="48.6" fill="#fff" stroke="#000" stroke-width="2.08"/>
<text x="128.0" y="687.7" font-size="19.41" textLength="138.0" lengthAdjust="spacingAndGlyphs">slope = -0.256</text>
<text x="128.5" y="709.6" font-size="18.75" style="font-family:'Liberation Serif',serif" font-style="italic">r</text>
<text x="143.5" y="709.6" font-size="19.41" textLength="82.1" lengthAdjust="spacingAndGlyphs">= -0.608</text>
<text x="307.3" y="1166.6" font-size="17.25">V</text>
<text x="318.8" y="1170.0" font-size="11.70" style="font-family:'Liberation Serif',serif" font-style="italic">A</text>
<text x="327.5" y="1166.6" font-size="17.25" textLength="53.2" lengthAdjust="spacingAndGlyphs">(km/s)</text>
<g transform="rotate(-90 55.5 947)">
<text x="-22.0" y="947.0" font-size="17.25">V</text>
<text x="-10.5" y="950.4" font-size="11.70" style="font-family:'Liberation Serif',serif" font-style="italic" textLength="52.0" lengthAdjust="spacingAndGlyphs">remaining</text>
<text x="43.0" y="947.0" font-size="17.25" textLength="53.2" lengthAdjust="spacingAndGlyphs">(km/s)</text>
</g>
</g>
<g id="p5">
<g clip-path="url(#c5)">
<path d="M918.6 673.4L962.4 770.4L981.5 786.4L917.4 770.4L936.1 804.6L942.4 806.3L953.0 804.4L974.5 816.5L962.4 885.4L967.1 847.3L955.8 804.4L978.3 928.3L1029.6 954.9L1031.5 955.6L970.5 984.3L990.3 963.2L996.7 964.1L954.4 972.4L967.5 1009.5L959.3 920.5L931.4 942.4L946.8 934.4L980.1 967.7L983.3 959.0L998.0 956.8L983.3 964.5L1002.5 951.3L997.5 959.9L957.3 1029.1L967.5 1009.5L951.5 1046.4L981.6 1021.4L994.5 1005.3L942.3 1043.2L772.5 1096.2" fill="none" stroke="#00f" stroke-width="2.08" stroke-linejoin="round" stroke-linecap="round"/>
<circle cx="918.6" cy="673.4" r="3.3" fill="#00f"/>
<circle cx="962.4" cy="770.4" r="3.3" fill="#00f"/>
<circle cx="981.5" cy="786.4" r="3.3" fill="#00f"/>
<circle cx="917.4" cy="770.4" r="3.3" fill="#00f"/>
<circle cx="936.1" cy="804.6" r="3.3" fill="#00f"/>
<circle cx="942.4" cy="806.3" r="3.3" fill="#00f"/>
<circle cx="953.0" cy="804.4" r="3.3" fill="#00f"/>
<circle cx="955.8" cy="804.4" r="3.3" fill="#00f"/>
<circle cx="974.5" cy="816.5" r="3.3" fill="#00f"/>
<circle cx="967.1" cy="847.3" r="3.3" fill="#00f"/>
<circle cx="962.4" cy="885.4" r="3.3" fill="#00f"/>
<circle cx="978.3" cy="928.3" r="3.3" fill="#00f"/>
<circle cx="1029.6" cy="954.9" r="3.3" fill="#00f"/>
<circle cx="959.3" cy="920.5" r="3.3" fill="#00f"/>
<circle cx="946.8" cy="934.4" r="3.3" fill="#00f"/>
<circle cx="931.4" cy="942.4" r="3.3" fill="#00f"/>
<circle cx="1002.5" cy="951.3" r="3.3" fill="#00f"/>
<circle cx="998.0" cy="956.8" r="3.3" fill="#00f"/>
<circle cx="983.3" cy="959.0" r="3.3" fill="#00f"/>
<circle cx="996.7" cy="964.1" r="3.3" fill="#00f"/>
<circle cx="990.3" cy="963.2" r="3.3" fill="#00f"/>
<circle cx="983.3" cy="964.5" r="3.3" fill="#00f"/>
<circle cx="980.1" cy="967.7" r="3.3" fill="#00f"/>
<circle cx="954.4" cy="972.4" r="3.3" fill="#00f"/>
<circle cx="970.5" cy="984.3" r="3.3" fill="#00f"/>
<circle cx="994.5" cy="1005.3" r="3.3" fill="#00f"/>
<circle cx="967.5" cy="1009.5" r="3.3" fill="#00f"/>
<circle cx="981.6" cy="1021.4" r="3.3" fill="#00f"/>
<circle cx="957.3" cy="1029.1" r="3.3" fill="#00f"/>
<circle cx="942.3" cy="1043.2" r="3.3" fill="#00f"/>
<circle cx="951.5" cy="1046.4" r="3.3" fill="#00f"/>
<circle cx="772.5" cy="1096.2" r="3.3" fill="#00f"/>
<circle cx="1031.5" cy="955.6" r="3.3" fill="#00f"/>
<circle cx="997.5" cy="959.9" r="3.3" fill="#00f"/>
</g>
<path d="M672.8 1115.9v-8.3M672.8 661.9v8.3M737.7 1115.9v-8.3M737.7 661.9v8.3M802.7 1115.9v-8.3M802.7 661.9v8.3M867.6 1115.9v-8.3M867.6 661.9v8.3M932.5 1115.9v-8.3M932.5 661.9v8.3M997.5 1115.9v-8.3M997.5 661.9v8.3M1062.4 1115.9v-8.3M1062.4 661.9v8.3M1127.3 1115.9v-8.3M1127.3 661.9v8.3M673.2 661.9h8.3M1126.8 661.9h-8.3M673.2 726.7h8.3M1126.8 726.7h-8.3M673.2 791.5h8.3M1126.8 791.5h-8.3M673.2 856.3h8.3M1126.8 856.3h-8.3M673.2 921.1h8.3M1126.8 921.1h-8.3M673.2 985.9h8.3M1126.8 985.9h-8.3M673.2 1050.7h8.3M1126.8 1050.7h-8.3M673.2 1115.5h8.3M1126.8 1115.5h-8.3" stroke="#000" stroke-width="1" fill="none" shape-rendering="crispEdges"/>
<rect x="673.2" y="661.9" width="453.6" height="454.0" fill="none" stroke="#000" stroke-width="2.08" shape-rendering="crispEdges"/>
<text x="672.8" y="1137.9" font-size="17.25" text-anchor="middle">0</text>
<text x="737.7" y="1137.9" font-size="17.25" text-anchor="middle">1</text>
<text x="802.7" y="1137.9" font-size="17.25" text-anchor="middle">2</text>
<text x="867.6" y="1137.9" font-size="17.25" text-anchor="middle">3</text>
<text x="932.5" y="1137.9" font-size="17.25" text-anchor="middle">4</text>
<text x="997.5" y="1137.9" font-size="17.25" text-anchor="middle">5</text>
<text x="1062.4" y="1137.9" font-size="17.25" text-anchor="middle">6</text>
<text x="1127.3" y="1137.9" font-size="17.25" text-anchor="middle">7</text>
<text x="663.6" y="666.6" font-size="17.25" text-anchor="end">4</text>
<text x="663.6" y="731.4" font-size="17.25" text-anchor="end">3</text>
<text x="663.6" y="796.2" font-size="17.25" text-anchor="end">2</text>
<text x="663.6" y="861.0" font-size="17.25" text-anchor="end">1</text>
<text x="663.6" y="925.8" font-size="17.25" text-anchor="end">0</text>
<text x="663.6" y="990.6" font-size="17.25" text-anchor="end" textLength="24.6" lengthAdjust="spacingAndGlyphs">−1</text>
<text x="663.6" y="1055.4" font-size="17.25" text-anchor="end" textLength="24.6" lengthAdjust="spacingAndGlyphs">−2</text>
<text x="663.6" y="1120.2" font-size="17.25" text-anchor="end" textLength="24.6" lengthAdjust="spacingAndGlyphs">−3</text>
<text x="900.0" y="651.4" font-size="23.72" text-anchor="middle" textLength="318.2" lengthAdjust="spacingAndGlyphs">Hodogram(Bz_By FR frame)</text>
<text x="900.0" y="1166.6" font-size="17.25" text-anchor="middle" textLength="53.9" lengthAdjust="spacingAndGlyphs">Bz(nT)</text>
<text x="627.0" y="889.0" font-size="17.25" text-anchor="middle" transform="rotate(-90 627.0 889.0)" textLength="55.1" lengthAdjust="spacingAndGlyphs">By(nT)</text>
</g>
<g id="p6">
<g clip-path="url(#c6)">
<path d="M1357.4 700.4L1297.4 785.3L1307.4 799.5L1249.6 785.3L1253.4 814.1L1247.3 817.4L1272.5 814.1L1304.4 825.5L1283.4 885.6L1324.3 852.4L1404.3 815.5L1476.3 923.5L1487.5 946.5L1464.2 947.3L1531.5 972.4L1530.1 954.5L1548.6 956.4L1608.7 961.5L1576.7 993.9L1631.3 916.5L1636.3 935.5L1569.4 928.0L1502.5 957.3L1504.5 950.8L1509.6 949.0L1516.4 955.6L1502.5 943.3L1527.3 951.3L1621.1 1012.2L1576.7 993.9L1569.4 1026.3L1525.6 1004.2L1477.4 990.3L1558.3 1024.1L1676.3 1070.4" fill="none" stroke="#00f" stroke-width="2.08" stroke-linejoin="round" stroke-linecap="round"/>
<circle cx="1357.4" cy="700.4" r="3.3" fill="#00f"/>
<circle cx="1297.4" cy="785.3" r="3.3" fill="#00f"/>
<circle cx="1307.4" cy="799.5" r="3.3" fill="#00f"/>
<circle cx="1249.6" cy="785.3" r="3.3" fill="#00f"/>
<circle cx="1253.4" cy="814.1" r="3.3" fill="#00f"/>
<circle cx="1247.3" cy="817.4" r="3.3" fill="#00f"/>
<circle cx="1272.5" cy="814.1" r="3.3" fill="#00f"/>
<circle cx="1304.4" cy="825.5" r="3.3" fill="#00f"/>
<circle cx="1283.4" cy="885.6" r="3.3" fill="#00f"/>
<circle cx="1324.3" cy="852.4" r="3.3" fill="#00f"/>
<circle cx="1404.3" cy="815.5" r="3.3" fill="#00f"/>
<circle cx="1476.3" cy="923.5" r="3.3" fill="#00f"/>
<circle cx="1487.5" cy="946.5" r="3.3" fill="#00f"/>
<circle cx="1464.2" cy="947.3" r="3.3" fill="#00f"/>
<circle cx="1502.5" cy="943.3" r="3.3" fill="#00f"/>
<circle cx="1504.5" cy="950.8" r="3.3" fill="#00f"/>
<circle cx="1509.6" cy="949.0" r="3.3" fill="#00f"/>
<circle cx="1502.5" cy="957.3" r="3.3" fill="#00f"/>
<circle cx="1516.4" cy="955.6" r="3.3" fill="#00f"/>
<circle cx="1527.3" cy="951.3" r="3.3" fill="#00f"/>
<circle cx="1530.1" cy="954.5" r="3.3" fill="#00f"/>
<circle cx="1548.6" cy="956.4" r="3.3" fill="#00f"/>
<circle cx="1531.5" cy="972.4" r="3.3" fill="#00f"/>
<circle cx="1608.7" cy="961.5" r="3.3" fill="#00f"/>
<circle cx="1576.7" cy="993.9" r="3.3" fill="#00f"/>
<circle cx="1631.3" cy="916.5" r="3.3" fill="#00f"/>
<circle cx="1636.3" cy="935.5" r="3.3" fill="#00f"/>
<circle cx="1569.4" cy="928.0" r="3.3" fill="#00f"/>
<circle cx="1621.1" cy="1012.2" r="3.3" fill="#00f"/>
<circle cx="1569.4" cy="1026.3" r="3.3" fill="#00f"/>
<circle cx="1558.3" cy="1024.1" r="3.3" fill="#00f"/>
<circle cx="1477.4" cy="990.3" r="3.3" fill="#00f"/>
<circle cx="1525.6" cy="1004.2" r="3.3" fill="#00f"/>
<circle cx="1676.3" cy="1070.4" r="3.3" fill="#00f"/>
</g>
<path d="M1229.0 1115.9v-8.3M1229.0 661.9v8.3M1285.8 1115.9v-8.3M1285.8 661.9v8.3M1342.5 1115.9v-8.3M1342.5 661.9v8.3M1399.2 1115.9v-8.3M1399.2 661.9v8.3M1456.0 1115.9v-8.3M1456.0 661.9v8.3M1512.8 1115.9v-8.3M1512.8 661.9v8.3M1569.5 1115.9v-8.3M1569.5 661.9v8.3M1626.2 1115.9v-8.3M1626.2 661.9v8.3M1683.0 1115.9v-8.3M1683.0 661.9v8.3M1229.3 690.6h8.3M1683.0 690.6h-8.3M1229.3 747.3h8.3M1683.0 747.3h-8.3M1229.3 804.0h8.3M1683.0 804.0h-8.3M1229.3 860.7h8.3M1683.0 860.7h-8.3M1229.3 917.4h8.3M1683.0 917.4h-8.3M1229.3 974.1h8.3M1683.0 974.1h-8.3M1229.3 1030.8h8.3M1683.0 1030.8h-8.3M1229.3 1087.5h8.3M1683.0 1087.5h-8.3" stroke="#000" stroke-width="1" fill="none" shape-rendering="crispEdges"/>
<rect x="1229.3" y="661.9" width="453.7" height="454.0" fill="none" stroke="#000" stroke-width="2.08" shape-rendering="crispEdges"/>
<text x="1229.0" y="1137.9" font-size="17.25" text-anchor="middle" textLength="24.6" lengthAdjust="spacingAndGlyphs">−4</text>
<text x="1285.8" y="1137.9" font-size="17.25" text-anchor="middle" textLength="24.6" lengthAdjust="spacingAndGlyphs">−3</text>
<text x="1342.5" y="1137.9" font-size="17.25" text-anchor="middle" textLength="24.6" lengthAdjust="spacingAndGlyphs">−2</text>
<text x="1399.2" y="1137.9" font-size="17.25" text-anchor="middle" textLength="24.6" lengthAdjust="spacingAndGlyphs">−1</text>
<text x="1456.0" y="1137.9" font-size="17.25" text-anchor="middle">0</text>
<text x="1512.8" y="1137.9" font-size="17.25" text-anchor="middle">1</text>
<text x="1569.5" y="1137.9" font-size="17.25" text-anchor="middle">2</text>
<text x="1626.2" y="1137.9" font-size="17.25" text-anchor="middle">3</text>
<text x="1683.0" y="1137.9" font-size="17.25" text-anchor="middle">4</text>
<text x="1219.8" y="695.3" font-size="17.25" text-anchor="end">4</text>
<text x="1219.8" y="752.0" font-size="17.25" text-anchor="end">3</text>
<text x="1219.8" y="808.7" font-size="17.25" text-anchor="end">2</text>
<text x="1219.8" y="865.4" font-size="17.25" text-anchor="end">1</text>
<text x="1219.8" y="922.1" font-size="17.25" text-anchor="end">0</text>
<text x="1219.8" y="978.8" font-size="17.25" text-anchor="end" textLength="24.6" lengthAdjust="spacingAndGlyphs">−1</text>
<text x="1219.8" y="1035.5" font-size="17.25" text-anchor="end" textLength="24.6" lengthAdjust="spacingAndGlyphs">−2</text>
<text x="1219.8" y="1092.2" font-size="17.25" text-anchor="end" textLength="24.6" lengthAdjust="spacingAndGlyphs">−3</text>
<text x="1456.0" y="651.4" font-size="23.72" text-anchor="middle" textLength="319.7" lengthAdjust="spacingAndGlyphs">Hodogram(Bx_By FR frame)</text>
<text x="1456.0" y="1166.6" font-size="17.25" text-anchor="middle" textLength="55.1" lengthAdjust="spacingAndGlyphs">Bx(nT)</text>
<text x="1182.0" y="889.0" font-size="17.25" text-anchor="middle" transform="rotate(-90 1182.0 889.0)" textLength="55.1" lengthAdjust="spacingAndGlyphs">By(nT)</text>
</g>
<clipPath id="t0"><rect x="117.24" y="1305.05" width="1565.81" height="188.79999999999995"/></clipPath>
<clipPath id="t1"><rect x="117.24" y="1588.55" width="1565.81" height="188.79999999999995"/></clipPath>
<clipPath id="t2"><rect x="117.24" y="1872.05" width="1565.81" height="188.79999999999995"/></clipPath>
<clipPath id="t3"><rect x="117.24" y="2155.55" width="1565.81" height="188.79999999999973"/></clipPath>
<clipPath id="t4"><rect x="117.24" y="2439.05" width="1565.81" height="188.79999999999973"/></clipPath>
<clipPath id="t5"><rect x="117.24" y="2722.55" width="1565.81" height="188.79999999999973"/></clipPath>
<clipPath id="t6"><rect x="117.24" y="3006.05" width="1565.81" height="188.79999999999973"/></clipPath>
<g id="t1">
<g clip-path="url(#t0)">
<polyline points="117.4,1437.6 163.5,1453.3 209.6,1450.6 255.6,1465.2 301.7,1464.1 347.8,1466.0 393.9,1459.1 440.0,1451.0 486.0,1455.3 532.1,1444.5 578.2,1423.4 624.3,1401.8 670.4,1399.9 716.4,1406.1 762.5,1385.7 808.6,1388.0 854.7,1359.9 900.8,1372.6 946.8,1359.2 992.9,1356.9 1039.0,1375.3 1085.1,1393.8 1131.2,1393.9 1177.2,1390.6 1223.3,1392.7 1269.4,1394.9 1315.5,1386.8 1361.6,1381.6 1407.6,1364.6 1453.7,1372.2 1499.8,1373.5 1545.9,1387.2 1592.0,1400.9 1638.0,1375.6 1684.1,1338.9" fill="none" stroke="#f00" stroke-width="2.08" stroke-linejoin="round"/>
<polyline points="117.4,1319.2 163.5,1332.7 209.6,1331.9 255.6,1340.7 301.7,1344.2 347.8,1343.8 393.9,1340.7 440.0,1338.8 486.0,1353.8 532.1,1345.3 578.2,1336.1 624.3,1353.0 670.4,1349.6 716.4,1350.7 762.5,1362.6 808.6,1354.2 854.7,1369.9 900.8,1366.9 946.8,1349.2 992.9,1357.2 1039.0,1355.7 1085.1,1359.2 1131.2,1357.0 1177.2,1355.2 1223.3,1353.9 1269.4,1352.6 1315.5,1355.6 1361.6,1356.4 1407.6,1360.3 1453.7,1365.8 1499.8,1375.7 1545.9,1368.0 1592.0,1364.6 1638.0,1377.8 1684.1,1408.1" fill="none" stroke="#008000" stroke-width="2.08" stroke-linejoin="round"/>
<polyline points="117.4,1393.4 163.5,1371.1 209.6,1364.9 255.6,1379.9 301.7,1371.1 347.8,1369.5 393.9,1367.6 440.0,1361.5 486.0,1353.8 532.1,1358.0 578.2,1365.7 624.3,1341.5 670.4,1327.7 716.4,1328.0 762.5,1333.4 808.6,1332.3 854.7,1328.0 900.8,1329.2 946.8,1344.2 992.9,1346.1 1039.0,1345.3 1085.1,1334.6 1131.2,1335.0 1177.2,1331.7 1223.3,1333.0 1269.4,1333.0 1315.5,1333.0 1361.6,1333.8 1407.6,1337.7 1453.7,1329.5 1499.8,1327.0 1545.9,1325.7 1592.0,1326.5 1638.0,1332.0 1684.1,1351.5" fill="none" stroke="#00f" stroke-width="2.08" stroke-linejoin="round"/>
<line x1="117.24" y1="1400.3" x2="1683.05" y2="1400.3" stroke="#000" stroke-width="1" stroke-dasharray="12.5 12.8" shape-rendering="crispEdges"/>
</g>
<path d="M163.5 1493.8v-8.3M163.5 1305.0v8.3M393.9 1493.8v-8.3M393.9 1305.0v8.3M624.3 1493.8v-8.3M624.3 1305.0v8.3M854.7 1493.8v-8.3M854.7 1305.0v8.3M1085.1 1493.8v-8.3M1085.1 1305.0v8.3M1315.5 1493.8v-8.3M1315.5 1305.0v8.3M1545.9 1493.8v-8.3M1545.9 1305.0v8.3M117.2 1305.1h8.3M1683.0 1305.1h-8.3M117.2 1336.5h8.3M1683.0 1336.5h-8.3M117.2 1368.0h8.3M1683.0 1368.0h-8.3M117.2 1399.5h8.3M1683.0 1399.5h-8.3M117.2 1430.9h8.3M1683.0 1430.9h-8.3M117.2 1462.4h8.3M1683.0 1462.4h-8.3M117.2 1493.8h8.3M1683.0 1493.8h-8.3" stroke="#000" stroke-width="1" fill="none" shape-rendering="crispEdges"/>
<rect x="117.2" y="1305.0" width="1565.8" height="188.8" fill="none" stroke="#000" stroke-width="2.08" shape-rendering="crispEdges"/>
<text x="163.5" y="1516.6" font-size="17.25" text-anchor="middle" textLength="101.4" lengthAdjust="spacingAndGlyphs">06/15 12:08</text>
<text x="393.9" y="1516.6" font-size="17.25" text-anchor="middle" textLength="101.4" lengthAdjust="spacingAndGlyphs">06/15 12:13</text>
<text x="624.3" y="1516.6" font-size="17.25" text-anchor="middle" textLength="101.4" lengthAdjust="spacingAndGlyphs">06/15 12:18</text>
<text x="854.7" y="1516.6" font-size="17.25" text-anchor="middle" textLength="101.4" lengthAdjust="spacingAndGlyphs">06/15 12:23</text>
<text x="1085.1" y="1516.6" font-size="17.25" text-anchor="middle" textLength="101.4" lengthAdjust="spacingAndGlyphs">06/15 12:28</text>
<text x="1315.5" y="1516.6" font-size="17.25" text-anchor="middle" textLength="101.4" lengthAdjust="spacingAndGlyphs">06/15 12:33</text>
<text x="1545.9" y="1516.6" font-size="17.25" text-anchor="middle" textLength="101.4" lengthAdjust="spacingAndGlyphs">06/15 12:38</text>
<text x="107.6" y="1309.8" font-size="17.25" text-anchor="end">6</text>
<text x="107.6" y="1341.2" font-size="17.25" text-anchor="end">4</text>
<text x="107.6" y="1372.7" font-size="17.25" text-anchor="end">2</text>
<text x="107.6" y="1404.2" font-size="17.25" text-anchor="end">0</text>
<text x="107.6" y="1435.6" font-size="17.25" text-anchor="end" textLength="24.6" lengthAdjust="spacingAndGlyphs">−2</text>
<text x="107.6" y="1467.1" font-size="17.25" text-anchor="end" textLength="24.6" lengthAdjust="spacingAndGlyphs">−4</text>
<text x="107.6" y="1498.5" font-size="17.25" text-anchor="end" textLength="24.6" lengthAdjust="spacingAndGlyphs">−6</text>
<text x="900.1" y="1294.6" font-size="23.72" text-anchor="middle" textLength="315.8" lengthAdjust="spacingAndGlyphs">Magnetic Field (GSE Frame)</text>
<text x="70.2" y="1401.5" font-size="17.25" text-anchor="middle" transform="rotate(-90 70.2 1401.5)" textLength="45.2" lengthAdjust="spacingAndGlyphs">B(nT)</text>
<rect x="1604.7" y="1311.9" width="71.4" height="72.1" fill="#fff" stroke="#000" stroke-width="2.08"/>
<line x1="1614.1" y1="1324.8" x2="1635.9" y2="1324.8" stroke="#f00" stroke-width="2.08"/>
<text x="1652.3" y="1329.5" font-size="15.09" textLength="18.6" lengthAdjust="spacingAndGlyphs">Bx</text>
<line x1="1614.1" y1="1347.0" x2="1635.9" y2="1347.0" stroke="#008000" stroke-width="2.08"/>
<text x="1652.3" y="1351.9" font-size="15.09" textLength="18.6" lengthAdjust="spacingAndGlyphs">By</text>
<line x1="1614.1" y1="1369.9" x2="1635.9" y2="1369.9" stroke="#00f" stroke-width="2.08"/>
<text x="1652.3" y="1374.6" font-size="15.09" textLength="17.7" lengthAdjust="spacingAndGlyphs">Bz</text>
</g>
<g id="t2">
<g clip-path="url(#t1)">
<polyline points="117.4,1734.9 163.5,1754.9 209.6,1751.0 255.6,1770.6 301.7,1769.1 347.8,1771.4 393.9,1762.5 440.0,1752.5 486.0,1759.1 532.1,1745.6 578.2,1718.7 624.3,1694.9 670.4,1691.1 716.4,1698.7 762.5,1676.4 808.6,1678.0 854.7,1646.9 900.8,1661.8 946.8,1643.4 992.9,1641.9 1039.0,1663.8 1085.1,1686.1 1131.2,1685.8 1177.2,1681.7 1223.3,1684.3 1269.4,1686.4 1315.5,1677.0 1361.6,1671.0 1407.6,1651.4 1453.7,1661.2 1499.8,1663.8 1545.9,1679.6 1592.0,1694.5 1638.0,1661.0 1684.1,1628.3" fill="none" stroke="#f00" stroke-width="2.08" stroke-linejoin="round"/>
<polyline points="117.4,1629.9 163.5,1657.6 209.6,1662.2 255.6,1657.6 301.7,1667.2 347.8,1668.4 393.9,1667.2 440.0,1671.1 486.0,1691.1 532.1,1679.9 578.2,1667.6 624.3,1703.4 670.4,1711.0 716.4,1711.4 762.5,1719.9 808.6,1713.0 854.7,1732.9 900.8,1727.6 946.8,1701.4 992.9,1707.6 1039.0,1705.3 1085.1,1714.9 1131.2,1712.5 1177.2,1714.2 1223.3,1712.0 1269.4,1710.3 1315.5,1713.7 1361.6,1714.6 1407.6,1716.3 1453.7,1727.0 1499.8,1737.6 1545.9,1730.8 1592.0,1726.1 1638.0,1736.8 1684.1,1752.6" fill="none" stroke="#008000" stroke-width="2.08" stroke-linejoin="round"/>
<polyline points="117.4,1629.9 163.5,1617.6 209.6,1611.9 255.6,1630.7 301.7,1624.9 347.8,1623.4 393.9,1620.3 440.0,1614.2 486.0,1617.6 532.1,1616.1 578.2,1619.6 624.3,1612.7 670.4,1597.7 716.4,1598.0 762.5,1615.0 808.6,1607.7 854.7,1619.2 900.8,1616.1 946.8,1618.4 992.9,1626.9 1039.0,1622.6 1085.1,1612.3 1131.2,1611.1 1177.2,1607.4 1223.3,1607.0 1269.4,1605.7 1315.5,1609.1 1361.6,1611.2 1407.6,1619.8 1453.7,1615.9 1499.8,1620.6 1545.9,1612.1 1592.0,1607.6 1638.0,1627.0 1684.1,1672.1" fill="none" stroke="#00f" stroke-width="2.08" stroke-linejoin="round"/>
<polyline points="117.4,1595.0 163.5,1593.1 209.6,1591.9 255.6,1593.1 301.7,1593.4 347.8,1591.5 393.9,1594.2 440.0,1596.1 486.0,1599.2 532.1,1603.4 578.2,1610.7 624.3,1612.7 670.4,1596.9 716.4,1597.7 762.5,1610.0 808.6,1603.8 854.7,1597.7 900.8,1603.4 946.8,1600.0 992.9,1605.7 1039.0,1613.8 1085.1,1610.0 1131.2,1609.3 1177.2,1604.4 1223.3,1604.4 1269.4,1604.0 1315.5,1604.8 1361.6,1604.8 1407.6,1604.0 1453.7,1603.6 1499.8,1604.8 1545.9,1604.4 1592.0,1604.4 1638.0,1610.0 1684.1,1608.2" fill="none" stroke="#000" stroke-width="2.08" stroke-linejoin="round"/>
<line x1="117.24" y1="1702.0" x2="1683.05" y2="1702.0" stroke="#000" stroke-width="1" stroke-dasharray="12.5 12.8" shape-rendering="crispEdges"/>
</g>
<path d="M163.5 1777.3v-8.3M163.5 1588.5v8.3M393.9 1777.3v-8.3M393.9 1588.5v8.3M624.3 1777.3v-8.3M624.3 1588.5v8.3M854.7 1777.3v-8.3M854.7 1588.5v8.3M1085.1 1777.3v-8.3M1085.1 1588.5v8.3M1315.5 1777.3v-8.3M1315.5 1588.5v8.3M1545.9 1777.3v-8.3M1545.9 1588.5v8.3M117.2 1588.5h8.3M1683.0 1588.5h-8.3M117.2 1626.3h8.3M1683.0 1626.3h-8.3M117.2 1664.1h8.3M1683.0 1664.1h-8.3M117.2 1701.8h8.3M1683.0 1701.8h-8.3M117.2 1739.6h8.3M1683.0 1739.6h-8.3M117.2 1777.3h8.3M1683.0 1777.3h-8.3" stroke="#000" stroke-width="1" fill="none" shape-rendering="crispEdges"/>
<rect x="117.2" y="1588.5" width="1565.8" height="188.8" fill="none" stroke="#000" stroke-width="2.08" shape-rendering="crispEdges"/>
<text x="163.5" y="1800.1" font-size="17.25" text-anchor="middle" textLength="101.4" lengthAdjust="spacingAndGlyphs">06/15 12:08</text>
<text x="393.9" y="1800.1" font-size="17.25" text-anchor="middle" textLength="101.4" lengthAdjust="spacingAndGlyphs">06/15 12:13</text>
<text x="624.3" y="1800.1" font-size="17.25" text-anchor="middle" textLength="101.4" lengthAdjust="spacingAndGlyphs">06/15 12:18</text>
<text x="854.7" y="1800.1" font-size="17.25" text-anchor="middle" textLength="101.4" lengthAdjust="spacingAndGlyphs">06/15 12:23</text>
<text x="1085.1" y="1800.1" font-size="17.25" text-anchor="middle" textLength="101.4" lengthAdjust="spacingAndGlyphs">06/15 12:28</text>
<text x="1315.5" y="1800.1" font-size="17.25" text-anchor="middle" textLength="101.4" lengthAdjust="spacingAndGlyphs">06/15 12:33</text>
<text x="1545.9" y="1800.1" font-size="17.25" text-anchor="middle" textLength="101.4" lengthAdjust="spacingAndGlyphs">06/15 12:38</text>
<text x="107.6" y="1593.2" font-size="17.25" text-anchor="end">6</text>
<text x="107.6" y="1631.0" font-size="17.25" text-anchor="end">4</text>
<text x="107.6" y="1668.8" font-size="17.25" text-anchor="end">2</text>
<text x="107.6" y="1706.5" font-size="17.25" text-anchor="end">0</text>
<text x="107.6" y="1744.3" font-size="17.25" text-anchor="end" textLength="24.6" lengthAdjust="spacingAndGlyphs">−2</text>
<text x="107.6" y="1782.0" font-size="17.25" text-anchor="end" textLength="24.6" lengthAdjust="spacingAndGlyphs">−4</text>
<text x="900.1" y="1578.1" font-size="23.72" text-anchor="middle" textLength="381.5" lengthAdjust="spacingAndGlyphs">Magnetic Field (Flux Rope Frame)</text>
<text x="70.5" y="1685.5" font-size="17.25" text-anchor="middle" transform="rotate(-90 70.5 1685.5)" textLength="45.2" lengthAdjust="spacingAndGlyphs">B(nT)</text>
<rect x="1600.8" y="1595.8" width="75.3" height="93.6" fill="#fff" stroke="#000" stroke-width="2.08"/>
<line x1="1610.1" y1="1608.7" x2="1632.0" y2="1608.7" stroke="#f00" stroke-width="2.08"/>
<text x="1648.5" y="1613.7" font-size="15.09" textLength="22.6" lengthAdjust="spacingAndGlyphs">Bx'</text>
<line x1="1610.1" y1="1630.7" x2="1632.0" y2="1630.7" stroke="#008000" stroke-width="2.08"/>
<text x="1648.5" y="1635.8" font-size="15.09" textLength="22.6" lengthAdjust="spacingAndGlyphs">By'</text>
<line x1="1610.1" y1="1652.8" x2="1632.0" y2="1652.8" stroke="#00f" stroke-width="2.08"/>
<text x="1648.5" y="1657.7" font-size="15.09" textLength="21.7" lengthAdjust="spacingAndGlyphs">Bz'</text>
<line x1="1610.1" y1="1674.7" x2="1632.0" y2="1674.7" stroke="#000" stroke-width="2.08"/>
<text x="1648.5" y="1679.6" font-size="15.09" textLength="19.8" lengthAdjust="spacingAndGlyphs">|B|</text>
</g>
<g id="t3">
<g shape-rendering="crispEdges">
<rect x="117.4" y="1881.6" width="46.4" height="6.8" fill="#61ff9e"/>
<rect x="117.4" y="1888.2" width="46.4" height="7.2" fill="#0094ff"/>
<rect x="117.4" y="1895.2" width="46.4" height="6.2" fill="#a8ff57"/>
<rect x="117.4" y="1901.2" width="46.4" height="6.2" fill="#b3ff4c"/>
<rect x="117.4" y="1907.3" width="46.4" height="6.2" fill="#c7ff38"/>
<rect x="117.4" y="1913.3" width="46.4" height="6.6" fill="#75ff8a"/>
<rect x="117.4" y="1919.7" width="46.4" height="6.4" fill="#57ffa8"/>
<rect x="117.4" y="1925.9" width="46.4" height="6.6" fill="#e5ff1a"/>
<rect x="117.4" y="1932.3" width="46.4" height="6.8" fill="#d1ff2e"/>
<rect x="117.4" y="1939.0" width="46.4" height="6.2" fill="#8aff75"/>
<rect x="117.4" y="1945.0" width="46.4" height="6.2" fill="#9eff61"/>
<rect x="117.4" y="1951.0" width="46.4" height="6.6" fill="#61ff9e"/>
<rect x="117.4" y="1957.4" width="46.4" height="6.6" fill="#75ff8a"/>
<rect x="117.4" y="1963.9" width="46.4" height="6.2" fill="#b3ff4c"/>
<rect x="117.4" y="1969.9" width="46.4" height="6.2" fill="#9eff61"/>
<rect x="117.4" y="1975.9" width="46.4" height="7.4" fill="#d1ff2e"/>
<rect x="117.4" y="1983.1" width="46.4" height="6.2" fill="#b3ff4c"/>
<rect x="117.4" y="1989.1" width="46.4" height="6.6" fill="#b3ff4c"/>
<rect x="117.4" y="1995.6" width="46.4" height="6.6" fill="#d1ff2e"/>
<rect x="117.4" y="2002.0" width="46.4" height="6.2" fill="#57ffa8"/>
<rect x="117.4" y="2008.0" width="46.4" height="6.2" fill="#57ffa8"/>
<rect x="117.4" y="2014.0" width="46.4" height="7.2" fill="#ffdb00"/>
<rect x="117.4" y="2021.1" width="46.4" height="6.4" fill="#fffa00"/>
<rect x="117.4" y="2027.3" width="46.4" height="6.2" fill="#f0ff0f"/>
<rect x="117.4" y="2033.3" width="46.4" height="5.8" fill="#d1ff2e"/>
<rect x="117.4" y="2038.9" width="46.4" height="7.0" fill="#75ff8a"/>
<rect x="163.5" y="1875.1" width="46.4" height="7.2" fill="#9eff61"/>
<rect x="163.5" y="1882.2" width="46.4" height="13.2" fill="#38ffc7"/>
<rect x="163.5" y="1895.2" width="46.4" height="6.2" fill="#00b2ff"/>
<rect x="163.5" y="1901.2" width="46.4" height="6.2" fill="#00f0ff"/>
<rect x="163.5" y="1912.3" width="46.4" height="7.6" fill="#9eff61"/>
<rect x="163.5" y="1919.7" width="46.4" height="6.4" fill="#80ff80"/>
<rect x="163.5" y="1925.9" width="46.4" height="6.6" fill="#9eff61"/>
<rect x="163.5" y="1932.3" width="46.4" height="6.8" fill="#8aff75"/>
<rect x="163.5" y="1939.0" width="46.4" height="6.2" fill="#b3ff4c"/>
<rect x="163.5" y="1945.0" width="46.4" height="6.2" fill="#b3ff4c"/>
<rect x="163.5" y="1951.0" width="46.4" height="7.0" fill="#8aff75"/>
<rect x="163.5" y="1957.8" width="46.4" height="6.2" fill="#00b2ff"/>
<rect x="163.5" y="1963.9" width="46.4" height="6.2" fill="#8aff75"/>
<rect x="163.5" y="1969.9" width="46.4" height="6.2" fill="#b3ff4c"/>
<rect x="163.5" y="1975.9" width="46.4" height="7.4" fill="#fffa00"/>
<rect x="163.5" y="1983.1" width="46.4" height="6.2" fill="#d1ff2e"/>
<rect x="163.5" y="1989.1" width="46.4" height="6.6" fill="#d1ff2e"/>
<rect x="163.5" y="1995.6" width="46.4" height="6.6" fill="#8aff75"/>
<rect x="163.5" y="2002.0" width="46.4" height="6.2" fill="#b3ff4c"/>
<rect x="163.5" y="2008.0" width="46.4" height="6.2" fill="#b3ff4c"/>
<rect x="163.5" y="2014.0" width="46.4" height="7.2" fill="#61ff9e"/>
<rect x="163.5" y="2021.1" width="46.4" height="6.4" fill="#ffb300"/>
<rect x="163.5" y="2027.3" width="46.4" height="6.2" fill="#ffdb00"/>
<rect x="163.5" y="2033.3" width="46.4" height="5.8" fill="#ffb300"/>
<rect x="163.5" y="2038.9" width="46.4" height="13.0" fill="#b3ff4c"/>
<rect x="209.6" y="1881.6" width="46.4" height="13.8" fill="#61ff9e"/>
<rect x="209.6" y="1895.2" width="46.4" height="6.2" fill="#00b2ff"/>
<rect x="209.6" y="1906.2" width="46.4" height="7.2" fill="#61ff9e"/>
<rect x="209.6" y="1913.3" width="46.4" height="12.8" fill="#8aff75"/>
<rect x="209.6" y="1930.9" width="46.4" height="8.2" fill="#9eff61"/>
<rect x="209.6" y="1939.0" width="46.4" height="12.2" fill="#d1ff2e"/>
<rect x="209.6" y="1951.0" width="46.4" height="13.0" fill="#2effd1"/>
<rect x="209.6" y="1963.9" width="46.4" height="6.2" fill="#9eff61"/>
<rect x="209.6" y="1969.9" width="46.4" height="19.5" fill="#d1ff2e"/>
<rect x="209.6" y="1989.1" width="46.4" height="6.2" fill="#2effd1"/>
<rect x="209.6" y="1995.2" width="46.4" height="7.0" fill="#8aff75"/>
<rect x="209.6" y="2002.0" width="46.4" height="6.2" fill="#f0ff0f"/>
<rect x="209.6" y="2008.0" width="46.4" height="6.2" fill="#9eff61"/>
<rect x="209.6" y="2014.0" width="46.4" height="7.2" fill="#61ff9e"/>
<rect x="209.6" y="2021.1" width="46.4" height="6.4" fill="#ffe500"/>
<rect x="209.6" y="2027.3" width="46.4" height="6.2" fill="#ffb300"/>
<rect x="209.6" y="2033.3" width="46.4" height="5.8" fill="#ffbd00"/>
<rect x="209.6" y="2038.9" width="46.4" height="7.0" fill="#00f0ff"/>
<rect x="255.6" y="1900.2" width="46.4" height="6.8" fill="#61ff9e"/>
<rect x="255.6" y="1906.9" width="46.4" height="6.2" fill="#1affe5"/>
<rect x="255.6" y="1919.3" width="46.4" height="6.8" fill="#9eff61"/>
<rect x="255.6" y="1925.9" width="46.4" height="6.6" fill="#f0ff0f"/>
<rect x="255.6" y="1932.3" width="46.4" height="12.8" fill="#c7ff38"/>
<rect x="255.6" y="1945.0" width="46.4" height="6.2" fill="#4dffb2"/>
<rect x="255.6" y="1957.4" width="46.4" height="6.6" fill="#00f0ff"/>
<rect x="255.6" y="1963.9" width="46.4" height="6.2" fill="#b3ff4c"/>
<rect x="255.6" y="1969.9" width="46.4" height="6.2" fill="#61ff9e"/>
<rect x="255.6" y="1975.9" width="46.4" height="7.4" fill="#b3ff4c"/>
<rect x="255.6" y="1983.1" width="46.4" height="6.2" fill="#fffa00"/>
<rect x="255.6" y="1989.1" width="46.4" height="6.2" fill="#8aff75"/>
<rect x="255.6" y="1995.2" width="46.4" height="7.0" fill="#9eff61"/>
<rect x="255.6" y="2002.0" width="46.4" height="6.2" fill="#61ff9e"/>
<rect x="255.6" y="2013.6" width="46.4" height="7.6" fill="#ffc700"/>
<rect x="255.6" y="2021.1" width="46.4" height="6.4" fill="#e5ff1a"/>
<rect x="255.6" y="2027.3" width="46.4" height="6.2" fill="#ffb300"/>
<rect x="255.6" y="2033.3" width="46.4" height="5.8" fill="#ff9e00"/>
<rect x="255.6" y="2045.3" width="46.4" height="7.0" fill="#fff000"/>
<rect x="255.6" y="2052.2" width="46.4" height="5.8" fill="#d1ff2e"/>
<rect x="301.7" y="1875.1" width="46.4" height="12.6" fill="#75ff8a"/>
<rect x="301.7" y="1906.2" width="46.4" height="19.9" fill="#4dffb2"/>
<rect x="301.7" y="1925.9" width="46.4" height="6.6" fill="#8aff75"/>
<rect x="301.7" y="1932.3" width="46.4" height="6.8" fill="#f0ff0f"/>
<rect x="301.7" y="1939.0" width="46.4" height="6.2" fill="#b3ff4c"/>
<rect x="301.7" y="1945.0" width="46.4" height="6.2" fill="#00f0ff"/>
<rect x="301.7" y="1951.0" width="46.4" height="6.6" fill="#b3ff4c"/>
<rect x="301.7" y="1957.4" width="46.4" height="6.6" fill="#00f0ff"/>
<rect x="301.7" y="1963.9" width="46.4" height="6.2" fill="#b3ff4c"/>
<rect x="301.7" y="1969.9" width="46.4" height="6.2" fill="#d1ff2e"/>
<rect x="301.7" y="1975.9" width="46.4" height="7.4" fill="#9eff61"/>
<rect x="301.7" y="1983.1" width="46.4" height="6.2" fill="#e5ff1a"/>
<rect x="301.7" y="1989.1" width="46.4" height="6.2" fill="#9eff61"/>
<rect x="301.7" y="1995.2" width="46.4" height="7.0" fill="#fffa00"/>
<rect x="301.7" y="2002.0" width="46.4" height="6.2" fill="#b3ff4c"/>
<rect x="301.7" y="2008.0" width="46.4" height="6.2" fill="#9eff61"/>
<rect x="301.7" y="2014.0" width="46.4" height="7.2" fill="#fff000"/>
<rect x="301.7" y="2021.1" width="46.4" height="12.4" fill="#f0ff0f"/>
<rect x="301.7" y="2033.3" width="46.4" height="5.8" fill="#ffa800"/>
<rect x="301.7" y="2045.3" width="46.4" height="6.6" fill="#ff9400"/>
<rect x="347.8" y="1875.1" width="46.4" height="6.6" fill="#9eff61"/>
<rect x="347.8" y="1900.2" width="46.4" height="6.8" fill="#00b2ff"/>
<rect x="347.8" y="1906.9" width="46.4" height="6.6" fill="#61ff9e"/>
<rect x="347.8" y="1913.3" width="46.4" height="6.6" fill="#38ffc7"/>
<rect x="347.8" y="1919.7" width="46.4" height="6.4" fill="#8aff75"/>
<rect x="347.8" y="1925.9" width="46.4" height="6.6" fill="#9eff61"/>
<rect x="347.8" y="1932.3" width="46.4" height="6.8" fill="#f0ff0f"/>
<rect x="347.8" y="1939.0" width="46.4" height="6.2" fill="#b3ff4c"/>
<rect x="347.8" y="1945.0" width="46.4" height="6.2" fill="#8aff75"/>
<rect x="347.8" y="1951.0" width="46.4" height="6.6" fill="#00f0ff"/>
<rect x="347.8" y="1957.4" width="46.4" height="6.6" fill="#00b2ff"/>
<rect x="347.8" y="1963.9" width="46.4" height="6.2" fill="#61ff9e"/>
<rect x="347.8" y="1969.9" width="46.4" height="6.2" fill="#b3ff4c"/>
<rect x="347.8" y="1975.9" width="46.4" height="7.4" fill="#d1ff2e"/>
<rect x="347.8" y="1983.1" width="46.4" height="6.2" fill="#d1ff2e"/>
<rect x="347.8" y="1989.1" width="46.4" height="6.2" fill="#b3ff4c"/>
<rect x="347.8" y="1995.2" width="46.4" height="7.0" fill="#8aff75"/>
<rect x="347.8" y="2002.0" width="46.4" height="6.2" fill="#b3ff4c"/>
<rect x="347.8" y="2008.0" width="46.4" height="6.2" fill="#f0ff0f"/>
<rect x="347.8" y="2014.0" width="46.4" height="7.2" fill="#e5ff1a"/>
<rect x="347.8" y="2021.1" width="46.4" height="6.4" fill="#ffdb00"/>
<rect x="347.8" y="2027.3" width="46.4" height="6.2" fill="#fffa00"/>
<rect x="347.8" y="2033.3" width="46.4" height="5.8" fill="#ff9400"/>
<rect x="347.8" y="2038.9" width="46.4" height="6.6" fill="#ffdb00"/>
<rect x="347.8" y="2045.3" width="46.4" height="6.6" fill="#e5ff1a"/>
<rect x="393.9" y="1875.1" width="46.4" height="6.6" fill="#b3ff4c"/>
<rect x="393.9" y="1881.6" width="46.4" height="6.2" fill="#1affe5"/>
<rect x="393.9" y="1887.6" width="46.4" height="7.4" fill="#009eff"/>
<rect x="393.9" y="1906.2" width="46.4" height="13.6" fill="#75ff8a"/>
<rect x="393.9" y="1919.7" width="46.4" height="6.4" fill="#8aff75"/>
<rect x="393.9" y="1925.9" width="46.4" height="6.6" fill="#9eff61"/>
<rect x="393.9" y="1932.3" width="46.4" height="6.8" fill="#e5ff1a"/>
<rect x="393.9" y="1939.0" width="46.4" height="12.2" fill="#c7ff38"/>
<rect x="393.9" y="1951.0" width="46.4" height="6.6" fill="#00f0ff"/>
<rect x="393.9" y="1963.5" width="46.4" height="6.6" fill="#00f0ff"/>
<rect x="393.9" y="1969.9" width="46.4" height="6.2" fill="#b3ff4c"/>
<rect x="393.9" y="1975.9" width="46.4" height="13.4" fill="#e5ff1a"/>
<rect x="393.9" y="1989.1" width="46.4" height="19.1" fill="#9eff61"/>
<rect x="393.9" y="2008.0" width="46.4" height="6.2" fill="#fffa00"/>
<rect x="393.9" y="2020.1" width="46.4" height="7.4" fill="#ffc700"/>
<rect x="393.9" y="2027.3" width="46.4" height="6.2" fill="#fffa00"/>
<rect x="393.9" y="2033.3" width="46.4" height="5.8" fill="#ff9e00"/>
<rect x="393.9" y="2038.9" width="46.4" height="6.6" fill="#ffc700"/>
<rect x="440.0" y="1881.6" width="46.4" height="6.2" fill="#9eff61"/>
<rect x="440.0" y="1894.8" width="46.4" height="6.6" fill="#00b2ff"/>
<rect x="440.0" y="1906.2" width="46.4" height="6.8" fill="#38ffc7"/>
<rect x="440.0" y="1912.9" width="46.4" height="7.0" fill="#9eff61"/>
<rect x="440.0" y="1919.7" width="46.4" height="12.8" fill="#75ff8a"/>
<rect x="440.0" y="1932.3" width="46.4" height="18.9" fill="#bdff42"/>
<rect x="440.0" y="1951.0" width="46.4" height="6.6" fill="#1affe5"/>
<rect x="440.0" y="1957.4" width="46.4" height="6.6" fill="#00f0ff"/>
<rect x="440.0" y="1963.9" width="46.4" height="6.2" fill="#00b2ff"/>
<rect x="440.0" y="1969.9" width="46.4" height="13.4" fill="#d1ff2e"/>
<rect x="440.0" y="1983.1" width="46.4" height="6.2" fill="#e5ff1a"/>
<rect x="440.0" y="1989.1" width="46.4" height="19.1" fill="#9eff61"/>
<rect x="440.0" y="2008.0" width="46.4" height="6.2" fill="#c7ff38"/>
<rect x="440.0" y="2020.1" width="46.4" height="7.4" fill="#b3ff4c"/>
<rect x="440.0" y="2027.3" width="46.4" height="11.8" fill="#ffc700"/>
<rect x="440.0" y="2038.9" width="46.4" height="6.6" fill="#d1ff2e"/>
<rect x="486.0" y="1881.6" width="46.4" height="6.2" fill="#1affe5"/>
<rect x="486.0" y="1887.6" width="46.4" height="7.4" fill="#8aff75"/>
<rect x="486.0" y="1912.3" width="46.4" height="7.6" fill="#8aff75"/>
<rect x="486.0" y="1919.7" width="46.4" height="6.4" fill="#75ff8a"/>
<rect x="486.0" y="1925.9" width="46.4" height="13.2" fill="#8aff75"/>
<rect x="486.0" y="1939.0" width="46.4" height="6.2" fill="#9eff61"/>
<rect x="486.0" y="1945.0" width="46.4" height="6.2" fill="#8aff75"/>
<rect x="486.0" y="1951.0" width="46.4" height="6.6" fill="#8aff75"/>
<rect x="486.0" y="1957.4" width="46.4" height="12.6" fill="#75ff8a"/>
<rect x="486.0" y="1969.9" width="46.4" height="13.4" fill="#9eff61"/>
<rect x="486.0" y="1983.1" width="46.4" height="6.2" fill="#8aff75"/>
<rect x="486.0" y="1989.1" width="46.4" height="6.2" fill="#d1ff2e"/>
<rect x="486.0" y="1995.2" width="46.4" height="7.0" fill="#fffa00"/>
<rect x="486.0" y="2002.0" width="46.4" height="6.2" fill="#b3ff4c"/>
<rect x="486.0" y="2008.0" width="46.4" height="13.2" fill="#d1ff2e"/>
<rect x="486.0" y="2021.1" width="46.4" height="12.4" fill="#ffdb00"/>
<rect x="486.0" y="2033.3" width="46.4" height="5.8" fill="#e5ff1a"/>
<rect x="486.0" y="2038.9" width="46.4" height="6.6" fill="#fffa00"/>
<rect x="486.0" y="2045.3" width="46.4" height="6.6" fill="#4dffb2"/>
<rect x="486.0" y="2051.8" width="46.4" height="6.2" fill="#fffa00"/>
<rect x="532.1" y="1875.1" width="46.4" height="6.6" fill="#9eff61"/>
<rect x="532.1" y="1887.2" width="46.4" height="7.8" fill="#4dffb2"/>
<rect x="532.1" y="1894.8" width="46.4" height="6.6" fill="#00b2ff"/>
<rect x="532.1" y="1901.2" width="46.4" height="6.2" fill="#38ffc7"/>
<rect x="532.1" y="1907.3" width="46.4" height="6.2" fill="#4dffb2"/>
<rect x="532.1" y="1913.3" width="46.4" height="6.6" fill="#1affe5"/>
<rect x="532.1" y="1919.7" width="46.4" height="6.4" fill="#b3ff4c"/>
<rect x="532.1" y="1925.9" width="46.4" height="13.2" fill="#9eff61"/>
<rect x="532.1" y="1939.0" width="46.4" height="12.2" fill="#a8ff57"/>
<rect x="532.1" y="1951.0" width="46.4" height="6.6" fill="#8aff75"/>
<rect x="532.1" y="1957.4" width="46.4" height="6.6" fill="#00b2ff"/>
<rect x="532.1" y="1963.9" width="46.4" height="6.2" fill="#75ff8a"/>
<rect x="532.1" y="1969.9" width="46.4" height="6.2" fill="#b3ff4c"/>
<rect x="532.1" y="1975.9" width="46.4" height="7.4" fill="#d1ff2e"/>
<rect x="532.1" y="1983.1" width="46.4" height="6.2" fill="#fffa00"/>
<rect x="532.1" y="1989.1" width="46.4" height="13.0" fill="#b3ff4c"/>
<rect x="532.1" y="2002.0" width="46.4" height="6.2" fill="#c7ff38"/>
<rect x="532.1" y="2008.0" width="46.4" height="13.2" fill="#d1ff2e"/>
<rect x="532.1" y="2021.1" width="46.4" height="6.4" fill="#ffb300"/>
<rect x="532.1" y="2027.3" width="46.4" height="11.8" fill="#ffdb00"/>
<rect x="532.1" y="2038.9" width="46.4" height="13.0" fill="#b3ff4c"/>
<rect x="578.2" y="1881.6" width="46.4" height="6.2" fill="#9eff61"/>
<rect x="578.2" y="1887.6" width="46.4" height="7.4" fill="#75ff8a"/>
<rect x="578.2" y="1912.3" width="46.4" height="7.6" fill="#9eff61"/>
<rect x="578.2" y="1919.7" width="46.4" height="6.4" fill="#8aff75"/>
<rect x="578.2" y="1930.9" width="46.4" height="8.2" fill="#b3ff4c"/>
<rect x="578.2" y="1939.0" width="46.4" height="6.2" fill="#e5ff1a"/>
<rect x="578.2" y="1945.0" width="46.4" height="6.2" fill="#8aff75"/>
<rect x="578.2" y="1951.0" width="46.4" height="13.0" fill="#1affe5"/>
<rect x="578.2" y="1963.9" width="46.4" height="6.2" fill="#75ff8a"/>
<rect x="578.2" y="1969.9" width="46.4" height="6.2" fill="#9eff61"/>
<rect x="578.2" y="1975.9" width="46.4" height="7.4" fill="#f0ff0f"/>
<rect x="578.2" y="1983.1" width="46.4" height="6.2" fill="#d1ff2e"/>
<rect x="578.2" y="1989.1" width="46.4" height="6.2" fill="#b3ff4c"/>
<rect x="578.2" y="1995.2" width="46.4" height="13.0" fill="#9eff61"/>
<rect x="578.2" y="2008.0" width="46.4" height="6.2" fill="#b3ff4c"/>
<rect x="578.2" y="2014.0" width="46.4" height="7.2" fill="#38ffc7"/>
<rect x="578.2" y="2026.3" width="46.4" height="7.2" fill="#ffa800"/>
<rect x="578.2" y="2033.3" width="46.4" height="5.8" fill="#fffa00"/>
<rect x="578.2" y="2038.9" width="46.4" height="6.6" fill="#d1ff2e"/>
<rect x="624.3" y="1894.2" width="46.4" height="7.2" fill="#4dffb2"/>
<rect x="624.3" y="1901.2" width="46.4" height="6.2" fill="#00f0ff"/>
<rect x="624.3" y="1907.3" width="46.4" height="12.6" fill="#75ff8a"/>
<rect x="624.3" y="1919.7" width="46.4" height="6.4" fill="#8aff75"/>
<rect x="624.3" y="1925.9" width="46.4" height="13.2" fill="#9eff61"/>
<rect x="624.3" y="1939.0" width="46.4" height="6.2" fill="#8aff75"/>
<rect x="624.3" y="1945.0" width="46.4" height="6.2" fill="#75ff8a"/>
<rect x="624.3" y="1951.0" width="46.4" height="6.6" fill="#8aff75"/>
<rect x="624.3" y="1957.4" width="46.4" height="6.6" fill="#a8ff57"/>
<rect x="624.3" y="1963.9" width="46.4" height="6.2" fill="#b3ff4c"/>
<rect x="624.3" y="1969.9" width="46.4" height="6.2" fill="#f0ff0f"/>
<rect x="624.3" y="1975.9" width="46.4" height="7.4" fill="#d1ff2e"/>
<rect x="624.3" y="1983.1" width="46.4" height="6.2" fill="#c7ff38"/>
<rect x="624.3" y="1989.1" width="46.4" height="6.2" fill="#b3ff4c"/>
<rect x="624.3" y="1995.2" width="46.4" height="7.0" fill="#a8ff57"/>
<rect x="624.3" y="2002.0" width="46.4" height="6.2" fill="#8aff75"/>
<rect x="624.3" y="2008.0" width="46.4" height="13.2" fill="#c7ff38"/>
<rect x="624.3" y="2021.1" width="46.4" height="6.4" fill="#e5ff1a"/>
<rect x="624.3" y="2027.3" width="46.4" height="6.2" fill="#ffb300"/>
<rect x="624.3" y="2033.3" width="46.4" height="5.8" fill="#b3ff4c"/>
<rect x="624.3" y="2038.9" width="46.4" height="6.6" fill="#4dffb2"/>
<rect x="624.3" y="2045.3" width="46.4" height="7.0" fill="#00f0ff"/>
<rect x="624.3" y="2052.2" width="46.4" height="5.8" fill="#8aff75"/>
<rect x="670.4" y="1906.2" width="46.4" height="6.8" fill="#c7ff38"/>
<rect x="670.4" y="1912.9" width="46.4" height="7.0" fill="#00b2ff"/>
<rect x="670.4" y="1919.7" width="46.4" height="6.4" fill="#75ff8a"/>
<rect x="670.4" y="1930.9" width="46.4" height="8.2" fill="#a8ff57"/>
<rect x="670.4" y="1939.0" width="46.4" height="6.2" fill="#b3ff4c"/>
<rect x="670.4" y="1945.0" width="46.4" height="12.6" fill="#9eff61"/>
<rect x="670.4" y="1957.4" width="46.4" height="6.6" fill="#4dffb2"/>
<rect x="670.4" y="1963.9" width="46.4" height="6.2" fill="#c7ff38"/>
<rect x="670.4" y="1969.9" width="46.4" height="13.4" fill="#e5ff1a"/>
<rect x="670.4" y="1983.1" width="46.4" height="6.2" fill="#9eff61"/>
<rect x="670.4" y="1989.1" width="46.4" height="6.2" fill="#61ff9e"/>
<rect x="670.4" y="1995.2" width="46.4" height="7.0" fill="#fffa00"/>
<rect x="670.4" y="2002.0" width="46.4" height="6.2" fill="#ffdb00"/>
<rect x="670.4" y="2008.0" width="46.4" height="6.2" fill="#fffa00"/>
<rect x="670.4" y="2014.0" width="46.4" height="7.2" fill="#b3ff4c"/>
<rect x="670.4" y="2026.3" width="46.4" height="7.2" fill="#ffc700"/>
<rect x="670.4" y="2033.3" width="46.4" height="5.8" fill="#ffdb00"/>
<rect x="670.4" y="2038.9" width="46.4" height="6.6" fill="#38ffc7"/>
<rect x="670.4" y="2045.3" width="46.4" height="6.6" fill="#75ff8a"/>
<rect x="716.4" y="1894.2" width="46.4" height="7.2" fill="#00f0ff"/>
<rect x="716.4" y="1906.2" width="46.4" height="13.6" fill="#8aff75"/>
<rect x="716.4" y="1919.7" width="46.4" height="6.4" fill="#4dffb2"/>
<rect x="716.4" y="1925.9" width="46.4" height="6.6" fill="#1affe5"/>
<rect x="716.4" y="1932.3" width="46.4" height="6.8" fill="#75ff8a"/>
<rect x="716.4" y="1939.0" width="46.4" height="6.2" fill="#8aff75"/>
<rect x="716.4" y="1945.0" width="46.4" height="12.6" fill="#b3ff4c"/>
<rect x="716.4" y="1957.4" width="46.4" height="6.6" fill="#75ff8a"/>
<rect x="716.4" y="1963.9" width="46.4" height="6.2" fill="#c7ff38"/>
<rect x="716.4" y="1969.9" width="46.4" height="13.4" fill="#f0ff0f"/>
<rect x="716.4" y="1983.1" width="46.4" height="12.2" fill="#a8ff57"/>
<rect x="716.4" y="1995.2" width="46.4" height="7.0" fill="#b3ff4c"/>
<rect x="716.4" y="2002.0" width="46.4" height="6.2" fill="#ffdb00"/>
<rect x="716.4" y="2008.0" width="46.4" height="6.2" fill="#e5ff1a"/>
<rect x="716.4" y="2014.0" width="46.4" height="7.2" fill="#c7ff38"/>
<rect x="716.4" y="2021.1" width="46.4" height="6.4" fill="#b3ff4c"/>
<rect x="716.4" y="2027.3" width="46.4" height="6.2" fill="#ffdb00"/>
<rect x="716.4" y="2033.3" width="46.4" height="5.8" fill="#c7ff38"/>
<rect x="716.4" y="2038.9" width="46.4" height="6.6" fill="#00e5ff"/>
<rect x="716.4" y="2045.3" width="46.4" height="6.6" fill="#75ff8a"/>
<rect x="762.5" y="1900.2" width="46.4" height="6.8" fill="#9eff61"/>
<rect x="762.5" y="1912.3" width="46.4" height="7.6" fill="#8aff75"/>
<rect x="762.5" y="1919.7" width="46.4" height="6.4" fill="#b3ff4c"/>
<rect x="762.5" y="1925.9" width="46.4" height="6.6" fill="#00f0ff"/>
<rect x="762.5" y="1932.3" width="46.4" height="6.8" fill="#c7ff38"/>
<rect x="762.5" y="1939.0" width="46.4" height="6.2" fill="#b3ff4c"/>
<rect x="762.5" y="1945.0" width="46.4" height="6.2" fill="#8aff75"/>
<rect x="762.5" y="1951.0" width="46.4" height="6.6" fill="#9eff61"/>
<rect x="762.5" y="1957.4" width="46.4" height="6.6" fill="#8aff75"/>
<rect x="762.5" y="1963.9" width="46.4" height="6.2" fill="#e5ff1a"/>
<rect x="762.5" y="1969.9" width="46.4" height="6.2" fill="#d1ff2e"/>
<rect x="762.5" y="1975.9" width="46.4" height="7.4" fill="#b3ff4c"/>
<rect x="762.5" y="1983.1" width="46.4" height="6.2" fill="#e5ff1a"/>
<rect x="762.5" y="1989.1" width="46.4" height="13.0" fill="#b3ff4c"/>
<rect x="762.5" y="2002.0" width="46.4" height="6.2" fill="#ffdb00"/>
<rect x="762.5" y="2008.0" width="46.4" height="6.2" fill="#9eff61"/>
<rect x="762.5" y="2014.0" width="46.4" height="7.2" fill="#c7ff38"/>
<rect x="762.5" y="2021.1" width="46.4" height="6.4" fill="#009eff"/>
<rect x="762.5" y="2027.3" width="46.4" height="6.2" fill="#f0ff0f"/>
<rect x="762.5" y="2033.3" width="46.4" height="5.8" fill="#ffc700"/>
<rect x="762.5" y="2038.9" width="46.4" height="6.6" fill="#38ffc7"/>
<rect x="762.5" y="2045.3" width="46.4" height="6.6" fill="#75ff8a"/>
<rect x="808.6" y="1894.2" width="46.4" height="7.2" fill="#00b2ff"/>
<rect x="808.6" y="1901.2" width="46.4" height="12.2" fill="#8aff75"/>
<rect x="808.6" y="1913.3" width="46.4" height="6.6" fill="#b3ff4c"/>
<rect x="808.6" y="1919.7" width="46.4" height="6.4" fill="#1affe5"/>
<rect x="808.6" y="1925.9" width="46.4" height="6.6" fill="#38ffc7"/>
<rect x="808.6" y="1932.3" width="46.4" height="6.8" fill="#75ff8a"/>
<rect x="808.6" y="1939.0" width="46.4" height="6.2" fill="#9eff61"/>
<rect x="808.6" y="1945.0" width="46.4" height="6.2" fill="#b3ff4c"/>
<rect x="808.6" y="1951.0" width="46.4" height="6.6" fill="#75ff8a"/>
<rect x="808.6" y="1957.4" width="46.4" height="6.6" fill="#d1ff2e"/>
<rect x="808.6" y="1963.9" width="46.4" height="6.2" fill="#e5ff1a"/>
<rect x="808.6" y="1969.9" width="46.4" height="6.2" fill="#ffdb00"/>
<rect x="808.6" y="1975.9" width="46.4" height="7.4" fill="#b3ff4c"/>
<rect x="808.6" y="1983.1" width="46.4" height="6.2" fill="#75ff8a"/>
<rect x="808.6" y="1989.1" width="46.4" height="6.2" fill="#9eff61"/>
<rect x="808.6" y="1995.2" width="46.4" height="13.0" fill="#b3ff4c"/>
<rect x="808.6" y="2008.0" width="46.4" height="6.2" fill="#ffdb00"/>
<rect x="808.6" y="2014.0" width="46.4" height="13.4" fill="#e5ff1a"/>
<rect x="808.6" y="2027.3" width="46.4" height="6.2" fill="#4dffb2"/>
<rect x="808.6" y="2033.3" width="46.4" height="12.2" fill="#b3ff4c"/>
<rect x="808.6" y="2045.3" width="46.4" height="6.6" fill="#75ff8a"/>
<rect x="854.7" y="1906.2" width="46.4" height="7.2" fill="#b3ff4c"/>
<rect x="854.7" y="1913.3" width="46.4" height="6.6" fill="#75ff8a"/>
<rect x="854.7" y="1919.7" width="46.4" height="6.4" fill="#9eff61"/>
<rect x="854.7" y="1938.4" width="46.4" height="6.8" fill="#b3ff4c"/>
<rect x="854.7" y="1945.0" width="46.4" height="6.2" fill="#8aff75"/>
<rect x="854.7" y="1951.0" width="46.4" height="6.6" fill="#a8ff57"/>
<rect x="854.7" y="1963.5" width="46.4" height="6.6" fill="#e5ff1a"/>
<rect x="854.7" y="1969.9" width="46.4" height="13.4" fill="#ffe500"/>
<rect x="854.7" y="1983.1" width="46.4" height="6.2" fill="#9eff61"/>
<rect x="854.7" y="1989.1" width="46.4" height="6.2" fill="#00f0ff"/>
<rect x="854.7" y="1995.2" width="46.4" height="7.0" fill="#b3ff4c"/>
<rect x="854.7" y="2002.0" width="46.4" height="6.2" fill="#fffa00"/>
<rect x="854.7" y="2008.0" width="46.4" height="6.2" fill="#e5ff1a"/>
<rect x="854.7" y="2014.0" width="46.4" height="7.2" fill="#4dffb2"/>
<rect x="854.7" y="2026.3" width="46.4" height="7.2" fill="#ffc700"/>
<rect x="854.7" y="2033.3" width="46.4" height="5.8" fill="#b3ff4c"/>
<rect x="854.7" y="2038.9" width="46.4" height="6.6" fill="#1affe5"/>
<rect x="854.7" y="2045.3" width="46.4" height="6.6" fill="#00f0ff"/>
<rect x="900.8" y="1887.2" width="46.4" height="7.8" fill="#38ffc7"/>
<rect x="900.8" y="1894.8" width="46.4" height="6.6" fill="#00f0ff"/>
<rect x="900.8" y="1912.3" width="46.4" height="13.8" fill="#8aff75"/>
<rect x="900.8" y="1925.9" width="46.4" height="19.3" fill="#9eff61"/>
<rect x="900.8" y="1945.0" width="46.4" height="6.2" fill="#d1ff2e"/>
<rect x="900.8" y="1951.0" width="46.4" height="6.6" fill="#9eff61"/>
<rect x="900.8" y="1957.4" width="46.4" height="6.6" fill="#38ffc7"/>
<rect x="900.8" y="1963.9" width="46.4" height="6.2" fill="#d1ff2e"/>
<rect x="900.8" y="1969.9" width="46.4" height="6.2" fill="#b3ff4c"/>
<rect x="900.8" y="1975.9" width="46.4" height="7.4" fill="#e5ff1a"/>
<rect x="900.8" y="1983.1" width="46.4" height="6.2" fill="#fffa00"/>
<rect x="900.8" y="1989.1" width="46.4" height="6.2" fill="#b3ff4c"/>
<rect x="900.8" y="1995.2" width="46.4" height="7.0" fill="#8aff75"/>
<rect x="900.8" y="2002.0" width="46.4" height="6.2" fill="#d1ff2e"/>
<rect x="900.8" y="2008.0" width="46.4" height="13.2" fill="#e5ff1a"/>
<rect x="900.8" y="2021.1" width="46.4" height="6.4" fill="#00f0ff"/>
<rect x="900.8" y="2027.3" width="46.4" height="6.2" fill="#ffc700"/>
<rect x="900.8" y="2033.3" width="46.4" height="5.8" fill="#b3ff4c"/>
<rect x="900.8" y="2038.9" width="46.4" height="6.6" fill="#38ffc7"/>
<rect x="946.8" y="1881.6" width="46.4" height="6.2" fill="#009eff"/>
<rect x="946.8" y="1887.6" width="46.4" height="7.4" fill="#00f0ff"/>
<rect x="946.8" y="1894.8" width="46.4" height="6.6" fill="#9eff61"/>
<rect x="946.8" y="1906.2" width="46.4" height="7.2" fill="#b3ff4c"/>
<rect x="946.8" y="1913.3" width="46.4" height="6.6" fill="#8aff75"/>
<rect x="946.8" y="1924.9" width="46.4" height="7.6" fill="#8aff75"/>
<rect x="946.8" y="1932.3" width="46.4" height="6.8" fill="#b3ff4c"/>
<rect x="946.8" y="1939.0" width="46.4" height="6.2" fill="#d1ff2e"/>
<rect x="946.8" y="1945.0" width="46.4" height="6.2" fill="#b3ff4c"/>
<rect x="946.8" y="1951.0" width="46.4" height="6.6" fill="#d1ff2e"/>
<rect x="946.8" y="1957.4" width="46.4" height="6.6" fill="#b3ff4c"/>
<rect x="946.8" y="1963.9" width="46.4" height="6.2" fill="#9eff61"/>
<rect x="946.8" y="1969.9" width="46.4" height="6.2" fill="#b3ff4c"/>
<rect x="946.8" y="1975.9" width="46.4" height="7.4" fill="#e5ff1a"/>
<rect x="946.8" y="1983.1" width="46.4" height="6.2" fill="#9eff61"/>
<rect x="946.8" y="1989.1" width="46.4" height="6.2" fill="#b3ff4c"/>
<rect x="946.8" y="1995.2" width="46.4" height="7.0" fill="#d1ff2e"/>
<rect x="946.8" y="2002.0" width="46.4" height="6.2" fill="#9eff61"/>
<rect x="946.8" y="2008.0" width="46.4" height="6.2" fill="#b3ff4c"/>
<rect x="946.8" y="2014.0" width="46.4" height="7.2" fill="#ffdb00"/>
<rect x="946.8" y="2021.1" width="46.4" height="6.4" fill="#e5ff1a"/>
<rect x="946.8" y="2027.3" width="46.4" height="6.2" fill="#9eff61"/>
<rect x="946.8" y="2033.3" width="46.4" height="5.8" fill="#e5ff1a"/>
<rect x="946.8" y="2038.9" width="46.4" height="6.6" fill="#ffdb00"/>
<rect x="946.8" y="2045.3" width="46.4" height="6.6" fill="#4dffb2"/>
<rect x="992.9" y="1875.1" width="46.4" height="6.6" fill="#1affe5"/>
<rect x="992.9" y="1894.2" width="46.4" height="7.2" fill="#4dffb2"/>
<rect x="992.9" y="1901.2" width="46.4" height="12.2" fill="#d1ff2e"/>
<rect x="992.9" y="1913.3" width="46.4" height="6.6" fill="#61ff9e"/>
<rect x="992.9" y="1919.7" width="46.4" height="6.4" fill="#8aff75"/>
<rect x="992.9" y="1925.9" width="46.4" height="6.6" fill="#4dffb2"/>
<rect x="992.9" y="1932.3" width="46.4" height="6.8" fill="#9eff61"/>
<rect x="992.9" y="1939.0" width="46.4" height="6.2" fill="#b3ff4c"/>
<rect x="992.9" y="1945.0" width="46.4" height="6.2" fill="#b3ff4c"/>
<rect x="992.9" y="1951.0" width="46.4" height="6.6" fill="#9eff61"/>
<rect x="992.9" y="1957.4" width="46.4" height="6.6" fill="#f0ff0f"/>
<rect x="992.9" y="1963.9" width="46.4" height="6.2" fill="#c7ff38"/>
<rect x="992.9" y="1969.9" width="46.4" height="13.4" fill="#b3ff4c"/>
<rect x="992.9" y="1983.1" width="46.4" height="19.1" fill="#8aff75"/>
<rect x="992.9" y="2002.0" width="46.4" height="12.2" fill="#f0ff0f"/>
<rect x="992.9" y="2014.0" width="46.4" height="7.2" fill="#ffdb00"/>
<rect x="992.9" y="2021.1" width="46.4" height="6.4" fill="#9eff61"/>
<rect x="992.9" y="2027.3" width="46.4" height="6.2" fill="#4dffb2"/>
<rect x="992.9" y="2033.3" width="46.4" height="5.8" fill="#ffdb00"/>
<rect x="992.9" y="2038.9" width="46.4" height="6.6" fill="#b3ff4c"/>
<rect x="992.9" y="2045.3" width="46.4" height="6.6" fill="#f0ff0f"/>
<rect x="992.9" y="2051.8" width="46.4" height="6.2" fill="#c7ff38"/>
<rect x="1039.0" y="1875.1" width="46.4" height="12.6" fill="#009eff"/>
<rect x="1039.0" y="1894.2" width="46.4" height="7.2" fill="#009eff"/>
<rect x="1039.0" y="1901.2" width="46.4" height="5.8" fill="#75ff8a"/>
<rect x="1039.0" y="1906.9" width="46.4" height="6.6" fill="#b3ff4c"/>
<rect x="1039.0" y="1913.3" width="46.4" height="6.6" fill="#38ffc7"/>
<rect x="1039.0" y="1919.7" width="46.4" height="6.4" fill="#8aff75"/>
<rect x="1039.0" y="1925.9" width="46.4" height="6.6" fill="#61ff9e"/>
<rect x="1039.0" y="1932.3" width="46.4" height="6.8" fill="#1affe5"/>
<rect x="1039.0" y="1939.0" width="46.4" height="6.2" fill="#9eff61"/>
<rect x="1039.0" y="1945.0" width="46.4" height="6.2" fill="#d1ff2e"/>
<rect x="1039.0" y="1951.0" width="46.4" height="6.6" fill="#9eff61"/>
<rect x="1039.0" y="1957.4" width="46.4" height="12.6" fill="#e5ff1a"/>
<rect x="1039.0" y="1969.9" width="46.4" height="19.5" fill="#c7ff38"/>
<rect x="1039.0" y="1989.1" width="46.4" height="6.2" fill="#61ff9e"/>
<rect x="1039.0" y="1995.2" width="46.4" height="7.0" fill="#d1ff2e"/>
<rect x="1039.0" y="2002.0" width="46.4" height="6.2" fill="#9eff61"/>
<rect x="1039.0" y="2008.0" width="46.4" height="6.2" fill="#e5ff1a"/>
<rect x="1039.0" y="2014.0" width="46.4" height="7.2" fill="#b3ff4c"/>
<rect x="1039.0" y="2021.1" width="46.4" height="6.4" fill="#ffdb00"/>
<rect x="1039.0" y="2027.3" width="46.4" height="6.2" fill="#d1ff2e"/>
<rect x="1039.0" y="2033.3" width="46.4" height="5.8" fill="#fffa00"/>
<rect x="1039.0" y="2038.9" width="46.4" height="6.6" fill="#38ffc7"/>
<rect x="1039.0" y="2045.3" width="46.4" height="6.6" fill="#e5ff1a"/>
<rect x="1085.1" y="1906.2" width="46.4" height="7.2" fill="#00b2ff"/>
<rect x="1085.1" y="1913.3" width="46.4" height="6.6" fill="#9eff61"/>
<rect x="1085.1" y="1924.9" width="46.4" height="14.3" fill="#9eff61"/>
<rect x="1085.1" y="1943.8" width="46.4" height="7.4" fill="#9eff61"/>
<rect x="1085.1" y="1951.0" width="46.4" height="6.6" fill="#4dffb2"/>
<rect x="1085.1" y="1957.4" width="46.4" height="12.6" fill="#a8ff57"/>
<rect x="1085.1" y="1969.9" width="46.4" height="6.2" fill="#fffa00"/>
<rect x="1085.1" y="1975.9" width="46.4" height="7.4" fill="#ffdb00"/>
<rect x="1085.1" y="1983.1" width="46.4" height="6.2" fill="#8aff75"/>
<rect x="1085.1" y="1989.1" width="46.4" height="6.2" fill="#9eff61"/>
<rect x="1085.1" y="1995.2" width="46.4" height="7.0" fill="#e5ff1a"/>
<rect x="1085.1" y="2002.0" width="46.4" height="6.2" fill="#b3ff4c"/>
<rect x="1085.1" y="2008.0" width="46.4" height="6.2" fill="#61ff9e"/>
<rect x="1085.1" y="2014.0" width="46.4" height="7.2" fill="#ffdb00"/>
<rect x="1085.1" y="2021.1" width="46.4" height="6.4" fill="#f0ff0f"/>
<rect x="1085.1" y="2027.3" width="46.4" height="6.2" fill="#e5ff1a"/>
<rect x="1085.1" y="2045.3" width="46.4" height="6.6" fill="#9eff61"/>
<rect x="1131.2" y="1900.2" width="46.4" height="6.8" fill="#00f0ff"/>
<rect x="1131.2" y="1906.9" width="46.4" height="6.6" fill="#38ffc7"/>
<rect x="1131.2" y="1913.3" width="46.4" height="6.6" fill="#b3ff4c"/>
<rect x="1131.2" y="1924.9" width="46.4" height="7.6" fill="#61ff9e"/>
<rect x="1131.2" y="1932.3" width="46.4" height="6.8" fill="#a8ff57"/>
<rect x="1131.2" y="1943.8" width="46.4" height="7.4" fill="#b3ff4c"/>
<rect x="1131.2" y="1951.0" width="46.4" height="6.6" fill="#1affe5"/>
<rect x="1131.2" y="1957.4" width="46.4" height="6.6" fill="#b3ff4c"/>
<rect x="1131.2" y="1963.9" width="46.4" height="12.2" fill="#fffa00"/>
<rect x="1131.2" y="1975.9" width="46.4" height="13.4" fill="#9eff61"/>
<rect x="1131.2" y="1989.1" width="46.4" height="6.2" fill="#b3ff4c"/>
<rect x="1131.2" y="1995.2" width="46.4" height="7.0" fill="#d1ff2e"/>
<rect x="1131.2" y="2002.0" width="46.4" height="6.2" fill="#9eff61"/>
<rect x="1131.2" y="2008.0" width="46.4" height="6.2" fill="#b3ff4c"/>
<rect x="1131.2" y="2014.0" width="46.4" height="7.2" fill="#ffdb00"/>
<rect x="1131.2" y="2021.1" width="46.4" height="6.4" fill="#d1ff2e"/>
<rect x="1131.2" y="2027.3" width="46.4" height="6.2" fill="#ffe500"/>
<rect x="1131.2" y="2045.3" width="46.4" height="6.6" fill="#9eff61"/>
<rect x="1177.2" y="1900.2" width="46.4" height="6.8" fill="#00a8ff"/>
<rect x="1177.2" y="1906.9" width="46.4" height="6.6" fill="#61ff9e"/>
<rect x="1177.2" y="1913.3" width="46.4" height="6.6" fill="#9eff61"/>
<rect x="1177.2" y="1924.9" width="46.4" height="7.6" fill="#b3ff4c"/>
<rect x="1177.2" y="1932.3" width="46.4" height="6.8" fill="#8aff75"/>
<rect x="1177.2" y="1943.8" width="46.4" height="7.4" fill="#9eff61"/>
<rect x="1177.2" y="1957.4" width="46.4" height="6.6" fill="#b3ff4c"/>
<rect x="1177.2" y="1963.9" width="46.4" height="6.2" fill="#e5ff1a"/>
<rect x="1177.2" y="1969.9" width="46.4" height="6.2" fill="#fffa00"/>
<rect x="1177.2" y="1975.9" width="46.4" height="7.4" fill="#4dffb2"/>
<rect x="1177.2" y="1983.1" width="46.4" height="6.2" fill="#00f0ff"/>
<rect x="1177.2" y="1989.1" width="46.4" height="6.2" fill="#b3ff4c"/>
<rect x="1177.2" y="1995.2" width="46.4" height="7.0" fill="#d1ff2e"/>
<rect x="1177.2" y="2006.8" width="46.4" height="7.4" fill="#d1ff2e"/>
<rect x="1177.2" y="2014.0" width="46.4" height="7.2" fill="#d1ff2e"/>
<rect x="1177.2" y="2021.1" width="46.4" height="6.4" fill="#ffdb00"/>
<rect x="1177.2" y="2027.3" width="46.4" height="6.2" fill="#e5ff1a"/>
<rect x="1177.2" y="2045.3" width="46.4" height="6.6" fill="#38ffc7"/>
<rect x="1177.2" y="2051.8" width="46.4" height="6.2" fill="#61ff9e"/>
<rect x="1223.3" y="1900.2" width="46.4" height="6.8" fill="#00b2ff"/>
<rect x="1223.3" y="1906.9" width="46.4" height="13.0" fill="#75ff8a"/>
<rect x="1223.3" y="1924.9" width="46.4" height="7.6" fill="#8aff75"/>
<rect x="1223.3" y="1932.3" width="46.4" height="6.8" fill="#b3ff4c"/>
<rect x="1223.3" y="1943.8" width="46.4" height="7.4" fill="#9eff61"/>
<rect x="1223.3" y="1951.0" width="46.4" height="6.6" fill="#4dffb2"/>
<rect x="1223.3" y="1957.4" width="46.4" height="6.6" fill="#b3ff4c"/>
<rect x="1223.3" y="1963.9" width="46.4" height="6.2" fill="#f0ff0f"/>
<rect x="1223.3" y="1969.9" width="46.4" height="6.2" fill="#fffa00"/>
<rect x="1223.3" y="1975.9" width="46.4" height="7.4" fill="#d1ff2e"/>
<rect x="1223.3" y="1983.1" width="46.4" height="12.2" fill="#b3ff4c"/>
<rect x="1223.3" y="1995.2" width="46.4" height="7.0" fill="#c7ff38"/>
<rect x="1223.3" y="2002.0" width="46.4" height="12.2" fill="#d1ff2e"/>
<rect x="1223.3" y="2014.0" width="46.4" height="7.2" fill="#e5ff1a"/>
<rect x="1223.3" y="2021.1" width="46.4" height="6.4" fill="#b3ff4c"/>
<rect x="1223.3" y="2027.3" width="46.4" height="6.2" fill="#ffdb00"/>
<rect x="1223.3" y="2045.3" width="46.4" height="6.6" fill="#38ffc7"/>
<rect x="1223.3" y="2051.8" width="46.4" height="6.2" fill="#75ff8a"/>
<rect x="1269.4" y="1906.2" width="46.4" height="13.6" fill="#75ff8a"/>
<rect x="1269.4" y="1924.9" width="46.4" height="7.6" fill="#8aff75"/>
<rect x="1269.4" y="1932.3" width="46.4" height="6.8" fill="#b3ff4c"/>
<rect x="1269.4" y="1943.8" width="46.4" height="7.4" fill="#d1ff2e"/>
<rect x="1269.4" y="1951.0" width="46.4" height="6.6" fill="#00b2ff"/>
<rect x="1269.4" y="1957.4" width="46.4" height="6.6" fill="#8aff75"/>
<rect x="1269.4" y="1963.9" width="46.4" height="6.2" fill="#c7ff38"/>
<rect x="1269.4" y="1969.9" width="46.4" height="6.2" fill="#ffe500"/>
<rect x="1269.4" y="1975.9" width="46.4" height="7.4" fill="#38ffc7"/>
<rect x="1269.4" y="1983.1" width="46.4" height="6.2" fill="#d1ff2e"/>
<rect x="1269.4" y="1989.1" width="46.4" height="6.2" fill="#b3ff4c"/>
<rect x="1269.4" y="1995.2" width="46.4" height="7.0" fill="#d1ff2e"/>
<rect x="1269.4" y="2002.0" width="46.4" height="6.2" fill="#9eff61"/>
<rect x="1269.4" y="2008.0" width="46.4" height="6.2" fill="#f0ff0f"/>
<rect x="1269.4" y="2014.0" width="46.4" height="7.2" fill="#ffdb00"/>
<rect x="1269.4" y="2026.3" width="46.4" height="7.2" fill="#ffc700"/>
<rect x="1269.4" y="2045.3" width="46.4" height="6.6" fill="#8aff75"/>
<rect x="1315.5" y="1906.2" width="46.4" height="32.9" fill="#80ff80"/>
<rect x="1315.5" y="1939.0" width="46.4" height="6.2" fill="#38ffc7"/>
<rect x="1315.5" y="1945.0" width="46.4" height="6.2" fill="#b3ff4c"/>
<rect x="1315.5" y="1951.0" width="46.4" height="13.0" fill="#9eff61"/>
<rect x="1315.5" y="1963.9" width="46.4" height="6.2" fill="#c7ff38"/>
<rect x="1315.5" y="1969.9" width="46.4" height="6.2" fill="#d1ff2e"/>
<rect x="1315.5" y="1975.9" width="46.4" height="7.4" fill="#8aff75"/>
<rect x="1315.5" y="1983.1" width="46.4" height="6.2" fill="#9eff61"/>
<rect x="1315.5" y="1989.1" width="46.4" height="6.2" fill="#c7ff38"/>
<rect x="1315.5" y="1995.2" width="46.4" height="7.0" fill="#b3ff4c"/>
<rect x="1315.5" y="2002.0" width="46.4" height="6.2" fill="#d1ff2e"/>
<rect x="1315.5" y="2008.0" width="46.4" height="6.2" fill="#b3ff4c"/>
<rect x="1315.5" y="2014.0" width="46.4" height="7.2" fill="#c7ff38"/>
<rect x="1315.5" y="2021.1" width="46.4" height="6.4" fill="#ffdb00"/>
<rect x="1315.5" y="2027.3" width="46.4" height="6.2" fill="#b3ff4c"/>
<rect x="1315.5" y="2045.3" width="46.4" height="6.6" fill="#8aff75"/>
<rect x="1315.5" y="2051.8" width="46.4" height="6.2" fill="#38ffc7"/>
<rect x="1361.6" y="1900.2" width="46.4" height="6.8" fill="#00b2ff"/>
<rect x="1361.6" y="1906.9" width="46.4" height="6.6" fill="#1affe5"/>
<rect x="1361.6" y="1913.3" width="46.4" height="6.6" fill="#61ff9e"/>
<rect x="1361.6" y="1919.7" width="46.4" height="6.4" fill="#75ff8a"/>
<rect x="1361.6" y="1925.9" width="46.4" height="6.6" fill="#75ff8a"/>
<rect x="1361.6" y="1932.3" width="46.4" height="12.8" fill="#8aff75"/>
<rect x="1361.6" y="1945.0" width="46.4" height="6.2" fill="#1affe5"/>
<rect x="1361.6" y="1951.0" width="46.4" height="6.6" fill="#61ff9e"/>
<rect x="1361.6" y="1957.4" width="46.4" height="6.6" fill="#8aff75"/>
<rect x="1361.6" y="1963.9" width="46.4" height="12.2" fill="#b3ff4c"/>
<rect x="1361.6" y="1975.9" width="46.4" height="7.4" fill="#d1ff2e"/>
<rect x="1361.6" y="1983.1" width="46.4" height="6.2" fill="#8aff75"/>
<rect x="1361.6" y="1989.1" width="46.4" height="6.2" fill="#b3ff4c"/>
<rect x="1361.6" y="1995.2" width="46.4" height="7.0" fill="#f0ff0f"/>
<rect x="1361.6" y="2002.0" width="46.4" height="6.2" fill="#8aff75"/>
<rect x="1361.6" y="2008.0" width="46.4" height="13.2" fill="#e5ff1a"/>
<rect x="1361.6" y="2021.1" width="46.4" height="6.4" fill="#c7ff38"/>
<rect x="1361.6" y="2027.3" width="46.4" height="6.2" fill="#ffbd00"/>
<rect x="1361.6" y="2033.3" width="46.4" height="5.8" fill="#61ff9e"/>
<rect x="1361.6" y="2038.9" width="46.4" height="6.6" fill="#1affe5"/>
<rect x="1361.6" y="2050.6" width="46.4" height="7.4" fill="#8aff75"/>
<rect x="1407.6" y="1900.2" width="46.4" height="6.8" fill="#009eff"/>
<rect x="1407.6" y="1906.9" width="46.4" height="13.0" fill="#a8ff57"/>
<rect x="1407.6" y="1919.7" width="46.4" height="6.4" fill="#38ffc7"/>
<rect x="1407.6" y="1925.9" width="46.4" height="6.6" fill="#009eff"/>
<rect x="1407.6" y="1938.4" width="46.4" height="6.8" fill="#8aff75"/>
<rect x="1407.6" y="1945.0" width="46.4" height="6.2" fill="#9eff61"/>
<rect x="1407.6" y="1951.0" width="46.4" height="13.0" fill="#a8ff57"/>
<rect x="1407.6" y="1963.9" width="46.4" height="6.2" fill="#c7ff38"/>
<rect x="1407.6" y="1969.9" width="46.4" height="6.2" fill="#d1ff2e"/>
<rect x="1407.6" y="1975.9" width="46.4" height="13.4" fill="#e5ff1a"/>
<rect x="1407.6" y="1989.1" width="46.4" height="6.2" fill="#00f0ff"/>
<rect x="1407.6" y="2000.8" width="46.4" height="7.4" fill="#c7ff38"/>
<rect x="1407.6" y="2008.0" width="46.4" height="6.2" fill="#e5ff1a"/>
<rect x="1407.6" y="2014.0" width="46.4" height="7.2" fill="#fffa00"/>
<rect x="1407.6" y="2026.3" width="46.4" height="7.2" fill="#fffa00"/>
<rect x="1407.6" y="2033.3" width="46.4" height="5.8" fill="#d1ff2e"/>
<rect x="1407.6" y="2038.9" width="46.4" height="6.6" fill="#b3ff4c"/>
<rect x="1453.7" y="1900.2" width="46.4" height="13.2" fill="#009eff"/>
<rect x="1453.7" y="1913.3" width="46.4" height="6.6" fill="#61ff9e"/>
<rect x="1453.7" y="1919.7" width="46.4" height="6.4" fill="#b3ff4c"/>
<rect x="1453.7" y="1925.9" width="46.4" height="6.6" fill="#009eff"/>
<rect x="1453.7" y="1938.4" width="46.4" height="6.8" fill="#61ff9e"/>
<rect x="1453.7" y="1945.0" width="46.4" height="6.2" fill="#9eff61"/>
<rect x="1453.7" y="1951.0" width="46.4" height="6.6" fill="#75ff8a"/>
<rect x="1453.7" y="1957.4" width="46.4" height="6.6" fill="#61ff9e"/>
<rect x="1453.7" y="1963.9" width="46.4" height="6.2" fill="#b3ff4c"/>
<rect x="1453.7" y="1969.9" width="46.4" height="6.2" fill="#d1ff2e"/>
<rect x="1453.7" y="1975.9" width="46.4" height="7.4" fill="#c7ff38"/>
<rect x="1453.7" y="1983.1" width="46.4" height="6.2" fill="#ffdb00"/>
<rect x="1453.7" y="1989.1" width="46.4" height="6.2" fill="#9eff61"/>
<rect x="1453.7" y="1995.2" width="46.4" height="7.0" fill="#8aff75"/>
<rect x="1453.7" y="2002.0" width="46.4" height="6.2" fill="#d1ff2e"/>
<rect x="1453.7" y="2008.0" width="46.4" height="6.2" fill="#9eff61"/>
<rect x="1453.7" y="2014.0" width="46.4" height="7.2" fill="#ffdb00"/>
<rect x="1453.7" y="2021.1" width="46.4" height="6.4" fill="#b3ff4c"/>
<rect x="1453.7" y="2027.3" width="46.4" height="6.2" fill="#ffdb00"/>
<rect x="1453.7" y="2033.3" width="46.4" height="5.8" fill="#61ff9e"/>
<rect x="1453.7" y="2038.9" width="46.4" height="6.6" fill="#8aff75"/>
<rect x="1453.7" y="2045.3" width="46.4" height="6.6" fill="#1affe5"/>
<rect x="1499.8" y="1906.2" width="46.4" height="7.2" fill="#00f0ff"/>
<rect x="1499.8" y="1919.3" width="46.4" height="6.8" fill="#a8ff57"/>
<rect x="1499.8" y="1925.9" width="46.4" height="12.6" fill="#75ff8a"/>
<rect x="1499.8" y="1938.4" width="46.4" height="6.8" fill="#b3ff4c"/>
<rect x="1499.8" y="1945.0" width="46.4" height="6.2" fill="#61ff9e"/>
<rect x="1499.8" y="1951.0" width="46.4" height="19.1" fill="#a8ff57"/>
<rect x="1499.8" y="1969.9" width="46.4" height="6.2" fill="#d1ff2e"/>
<rect x="1499.8" y="1975.9" width="46.4" height="7.4" fill="#9eff61"/>
<rect x="1499.8" y="1983.1" width="46.4" height="6.2" fill="#ffdb00"/>
<rect x="1499.8" y="1989.1" width="46.4" height="6.2" fill="#a8ff57"/>
<rect x="1499.8" y="1995.2" width="46.4" height="7.0" fill="#8aff75"/>
<rect x="1499.8" y="2002.0" width="46.4" height="12.2" fill="#fff000"/>
<rect x="1499.8" y="2014.0" width="46.4" height="7.2" fill="#d1ff2e"/>
<rect x="1499.8" y="2021.1" width="46.4" height="6.4" fill="#ffc700"/>
<rect x="1499.8" y="2027.3" width="46.4" height="6.2" fill="#61ff9e"/>
<rect x="1499.8" y="2033.3" width="46.4" height="5.8" fill="#8aff75"/>
<rect x="1499.8" y="2038.9" width="46.4" height="6.6" fill="#1affe5"/>
<rect x="1545.9" y="1906.2" width="46.4" height="7.2" fill="#00f0ff"/>
<rect x="1545.9" y="1913.3" width="46.4" height="6.6" fill="#61ff9e"/>
<rect x="1545.9" y="1919.7" width="46.4" height="12.8" fill="#a8ff57"/>
<rect x="1545.9" y="1932.3" width="46.4" height="6.8" fill="#b3ff4c"/>
<rect x="1545.9" y="1939.0" width="46.4" height="6.2" fill="#009eff"/>
<rect x="1545.9" y="1950.2" width="46.4" height="13.8" fill="#8aff75"/>
<rect x="1545.9" y="1963.9" width="46.4" height="6.2" fill="#9eff61"/>
<rect x="1545.9" y="1969.9" width="46.4" height="6.2" fill="#75ff8a"/>
<rect x="1545.9" y="1975.9" width="46.4" height="7.4" fill="#ffdb00"/>
<rect x="1545.9" y="1983.1" width="46.4" height="12.2" fill="#b3ff4c"/>
<rect x="1545.9" y="1995.2" width="46.4" height="7.0" fill="#fffa00"/>
<rect x="1545.9" y="2002.0" width="46.4" height="6.2" fill="#9eff61"/>
<rect x="1545.9" y="2008.0" width="46.4" height="6.2" fill="#4dffb2"/>
<rect x="1545.9" y="2014.0" width="46.4" height="7.2" fill="#ffc700"/>
<rect x="1545.9" y="2021.1" width="46.4" height="6.4" fill="#8aff75"/>
<rect x="1545.9" y="2027.3" width="46.4" height="6.2" fill="#75ff8a"/>
<rect x="1545.9" y="2038.1" width="46.4" height="7.4" fill="#a8ff57"/>
<rect x="1592.0" y="1906.2" width="46.4" height="7.2" fill="#4dffb2"/>
<rect x="1592.0" y="1913.3" width="46.4" height="12.8" fill="#75ff8a"/>
<rect x="1592.0" y="1925.9" width="46.4" height="6.6" fill="#9eff61"/>
<rect x="1592.0" y="1932.3" width="46.4" height="6.8" fill="#61ff9e"/>
<rect x="1592.0" y="1939.0" width="46.4" height="6.2" fill="#9eff61"/>
<rect x="1592.0" y="1945.0" width="46.4" height="6.2" fill="#61ff9e"/>
<rect x="1592.0" y="1951.0" width="46.4" height="6.6" fill="#9eff61"/>
<rect x="1592.0" y="1957.4" width="46.4" height="6.6" fill="#8aff75"/>
<rect x="1592.0" y="1963.9" width="46.4" height="6.2" fill="#b3ff4c"/>
<rect x="1592.0" y="1969.9" width="46.4" height="6.2" fill="#c7ff38"/>
<rect x="1592.0" y="1975.9" width="46.4" height="7.4" fill="#d1ff2e"/>
<rect x="1592.0" y="1983.1" width="46.4" height="6.2" fill="#fffa00"/>
<rect x="1592.0" y="1989.1" width="46.4" height="6.2" fill="#8aff75"/>
<rect x="1592.0" y="1995.2" width="46.4" height="7.0" fill="#fffa00"/>
<rect x="1592.0" y="2002.0" width="46.4" height="12.2" fill="#d1ff2e"/>
<rect x="1592.0" y="2014.0" width="46.4" height="7.2" fill="#ffc700"/>
<rect x="1592.0" y="2021.1" width="46.4" height="12.4" fill="#d1ff2e"/>
<rect x="1592.0" y="2033.3" width="46.4" height="5.8" fill="#75ff8a"/>
<rect x="1592.0" y="2038.9" width="46.4" height="6.6" fill="#61ff9e"/>
<rect x="1592.0" y="2045.3" width="46.4" height="6.6" fill="#38ffc7"/>
<rect x="1638.0" y="1900.2" width="45.3" height="6.8" fill="#00f0ff"/>
<rect x="1638.0" y="1906.9" width="45.3" height="6.6" fill="#00b2ff"/>
<rect x="1638.0" y="1913.3" width="45.3" height="6.6" fill="#b3ff4c"/>
<rect x="1638.0" y="1919.7" width="45.3" height="6.4" fill="#61ff9e"/>
<rect x="1638.0" y="1925.9" width="45.3" height="6.6" fill="#8aff75"/>
<rect x="1638.0" y="1932.3" width="45.3" height="12.8" fill="#61ff9e"/>
<rect x="1638.0" y="1945.0" width="45.3" height="6.2" fill="#9eff61"/>
<rect x="1638.0" y="1951.0" width="45.3" height="6.6" fill="#38ffc7"/>
<rect x="1638.0" y="1957.4" width="45.3" height="6.6" fill="#9eff61"/>
<rect x="1638.0" y="1963.9" width="45.3" height="6.2" fill="#b3ff4c"/>
<rect x="1638.0" y="1969.9" width="45.3" height="6.2" fill="#d1ff2e"/>
<rect x="1638.0" y="1975.9" width="45.3" height="7.4" fill="#8aff75"/>
<rect x="1638.0" y="1983.1" width="45.3" height="6.2" fill="#b3ff4c"/>
<rect x="1638.0" y="1989.1" width="45.3" height="6.2" fill="#d1ff2e"/>
<rect x="1638.0" y="1995.2" width="45.3" height="7.0" fill="#b3ff4c"/>
<rect x="1638.0" y="2002.0" width="45.3" height="6.2" fill="#a8ff57"/>
<rect x="1638.0" y="2008.0" width="45.3" height="6.2" fill="#8aff75"/>
<rect x="1638.0" y="2014.0" width="45.3" height="13.4" fill="#ffdb00"/>
<rect x="1638.0" y="2027.3" width="45.3" height="11.8" fill="#61ff9e"/>
<rect x="1638.0" y="2044.7" width="45.3" height="7.2" fill="#8aff75"/>
</g>
<path d="M163.5 2060.8v-8.3M163.5 1872.0v8.3M393.9 2060.8v-8.3M393.9 1872.0v8.3M624.3 2060.8v-8.3M624.3 1872.0v8.3M854.7 2060.8v-8.3M854.7 1872.0v8.3M1085.1 2060.8v-8.3M1085.1 1872.0v8.3M1315.5 2060.8v-8.3M1315.5 1872.0v8.3M1545.9 2060.8v-8.3M1545.9 1872.0v8.3M117.2 1872.0h8.3M1683.0 1872.0h-8.3M117.2 1935.0h8.3M1683.0 1935.0h-8.3M117.2 1997.9h8.3M1683.0 1997.9h-8.3M117.2 2060.8h8.3M1683.0 2060.8h-8.3" stroke="#000" stroke-width="1" fill="none" shape-rendering="crispEdges"/>
<rect x="117.2" y="1872.0" width="1565.8" height="188.8" fill="none" stroke="#000" stroke-width="2.08" shape-rendering="crispEdges"/>
<text x="163.5" y="2083.7" font-size="17.25" text-anchor="middle" textLength="101.4" lengthAdjust="spacingAndGlyphs">06/15 12:08</text>
<text x="393.9" y="2083.7" font-size="17.25" text-anchor="middle" textLength="101.4" lengthAdjust="spacingAndGlyphs">06/15 12:13</text>
<text x="624.3" y="2083.7" font-size="17.25" text-anchor="middle" textLength="101.4" lengthAdjust="spacingAndGlyphs">06/15 12:18</text>
<text x="854.7" y="2083.7" font-size="17.25" text-anchor="middle" textLength="101.4" lengthAdjust="spacingAndGlyphs">06/15 12:23</text>
<text x="1085.1" y="2083.7" font-size="17.25" text-anchor="middle" textLength="101.4" lengthAdjust="spacingAndGlyphs">06/15 12:28</text>
<text x="1315.5" y="2083.7" font-size="17.25" text-anchor="middle" textLength="101.4" lengthAdjust="spacingAndGlyphs">06/15 12:33</text>
<text x="1545.9" y="2083.7" font-size="17.25" text-anchor="middle" textLength="101.4" lengthAdjust="spacingAndGlyphs">06/15 12:38</text>
<text x="107.6" y="1876.7" font-size="17.25" text-anchor="end" textLength="31.8" lengthAdjust="spacingAndGlyphs">180</text>
<text x="107.6" y="1939.7" font-size="17.25" text-anchor="end" textLength="31.8" lengthAdjust="spacingAndGlyphs">120</text>
<text x="107.6" y="2002.6" font-size="17.25" text-anchor="end" textLength="21.2" lengthAdjust="spacingAndGlyphs">60</text>
<text x="107.6" y="2065.5" font-size="17.25" text-anchor="end">0</text>
<text x="900.1" y="1861.6" font-size="23.72" text-anchor="middle" textLength="666.9" lengthAdjust="spacingAndGlyphs">Suprathermal Electrons Pitch Angle Distribution (94.02eV)</text>
<text x="61.5" y="1967.0" font-size="17.25" text-anchor="middle" transform="rotate(-90 61.5 1967.0)" textLength="142.8" lengthAdjust="spacingAndGlyphs">pitch angle (deg)</text>
<defs><linearGradient id="jet" x1="0" y1="1" x2="0" y2="0">
<stop offset="0.000" stop-color="#000080"/>
<stop offset="0.025" stop-color="#00009c"/>
<stop offset="0.050" stop-color="#0000b9"/>
<stop offset="0.075" stop-color="#0000d6"/>
<stop offset="0.100" stop-color="#0000f3"/>
<stop offset="0.125" stop-color="#0000ff"/>
<stop offset="0.150" stop-color="#0019ff"/>
<stop offset="0.175" stop-color="#0033ff"/>
<stop offset="0.200" stop-color="#004dff"/>
<stop offset="0.225" stop-color="#0066ff"/>
<stop offset="0.250" stop-color="#0080ff"/>
<stop offset="0.275" stop-color="#0099ff"/>
<stop offset="0.300" stop-color="#00b2ff"/>
<stop offset="0.325" stop-color="#00ccff"/>
<stop offset="0.350" stop-color="#00e5f7"/>
<stop offset="0.375" stop-color="#15ffe2"/>
<stop offset="0.400" stop-color="#29ffce"/>
<stop offset="0.425" stop-color="#3effb9"/>
<stop offset="0.450" stop-color="#52ffa5"/>
<stop offset="0.475" stop-color="#67ff90"/>
<stop offset="0.500" stop-color="#7bff7b"/>
<stop offset="0.525" stop-color="#90ff67"/>
<stop offset="0.550" stop-color="#a5ff52"/>
<stop offset="0.575" stop-color="#b9ff3e"/>
<stop offset="0.600" stop-color="#ceff29"/>
<stop offset="0.625" stop-color="#e2ff15"/>
<stop offset="0.650" stop-color="#f7f600"/>
<stop offset="0.675" stop-color="#ffde00"/>
<stop offset="0.700" stop-color="#ffc600"/>
<stop offset="0.725" stop-color="#ffaf00"/>
<stop offset="0.750" stop-color="#ff9700"/>
<stop offset="0.775" stop-color="#ff8000"/>
<stop offset="0.800" stop-color="#ff6800"/>
<stop offset="0.825" stop-color="#ff5000"/>
<stop offset="0.850" stop-color="#ff3900"/>
<stop offset="0.875" stop-color="#ff2100"/>
<stop offset="0.900" stop-color="#f30900"/>
<stop offset="0.925" stop-color="#d60000"/>
<stop offset="0.950" stop-color="#b90000"/>
<stop offset="0.975" stop-color="#9c0000"/>
<stop offset="1.000" stop-color="#800000"/>
</linearGradient></defs>
<rect x="1692.0" y="1872.05" width="8.9" height="188.8" fill="url(#jet)" stroke="#000" stroke-width="1.9"/>
<text x="1711.2" y="1876.8" font-size="17.25" textLength="21.2" lengthAdjust="spacingAndGlyphs">10</text>
<text x="1732.0" y="1870.2" font-size="12.11" textLength="19.1" lengthAdjust="spacingAndGlyphs">-26</text>
<text x="1711.2" y="1914.6" font-size="17.25" textLength="21.2" lengthAdjust="spacingAndGlyphs">10</text>
<text x="1732.0" y="1908.0" font-size="12.11" textLength="19.1" lengthAdjust="spacingAndGlyphs">-27</text>
<text x="1711.2" y="1952.4" font-size="17.25" textLength="21.2" lengthAdjust="spacingAndGlyphs">10</text>
<text x="1732.0" y="1945.8" font-size="12.11" textLength="19.1" lengthAdjust="spacingAndGlyphs">-28</text>
<text x="1711.2" y="1990.1" font-size="17.25" textLength="21.2" lengthAdjust="spacingAndGlyphs">10</text>
<text x="1732.0" y="1983.5" font-size="12.11" textLength="19.1" lengthAdjust="spacingAndGlyphs">-29</text>
<text x="1711.2" y="2027.9" font-size="17.25" textLength="21.2" lengthAdjust="spacingAndGlyphs">10</text>
<text x="1732.0" y="2021.3" font-size="12.11" textLength="19.1" lengthAdjust="spacingAndGlyphs">-30</text>
<text x="1711.2" y="2065.7" font-size="17.25" textLength="21.2" lengthAdjust="spacingAndGlyphs">10</text>
<text x="1732.0" y="2059.0" font-size="12.11" textLength="19.1" lengthAdjust="spacingAndGlyphs">-31</text>
<path d="M1692.9 1909.8h7.2M1692.9 1947.6h7.2M1692.9 1985.3h7.2M1692.9 2023.1h7.2M1697.0 1881.5h3.1M1697.0 1890.9h3.1M1697.0 1900.4h3.1M1697.0 1919.2h3.1M1697.0 1928.7h3.1M1697.0 1938.1h3.1M1697.0 1957.0h3.1M1697.0 1966.5h3.1M1697.0 1975.9h3.1M1697.0 1994.8h3.1M1697.0 2004.2h3.1M1697.0 2013.6h3.1M1697.0 2032.5h3.1M1697.0 2042.0h3.1M1697.0 2051.4h3.1" stroke="#000" stroke-width="1" shape-rendering="crispEdges"/>
</g>
<g id="t4">
<g clip-path="url(#t3)">
<polyline points="117.4,2318.3 163.5,2314.9 255.6,2315.2 301.7,2312.2 393.9,2314.5 440.0,2316.8 532.1,2316.0 624.3,2324.5 670.4,2321.4 762.5,2325.6 854.7,2327.2 900.8,2324.5 992.9,2329.5 1085.1,2323.7 1131.2,2322.0 1223.3,2321.3 1315.5,2321.7 1361.6,2323.4 1453.7,2323.4 1545.9,2322.2 1592.0,2317.9 1684.1,2328.6" fill="none" stroke="#f00" stroke-width="2.08" stroke-linejoin="round"/>
<polyline points="117.4,2186.9 163.5,2184.2 255.6,2187.6 301.7,2190.3 393.9,2183.4 440.0,2187.6 532.1,2187.3 624.3,2181.1 670.4,2182.3 762.5,2185.3 854.7,2183.4 900.8,2186.9 992.9,2184.6 1085.1,2183.8 1131.2,2185.6 1223.3,2185.1 1315.5,2184.7 1545.9,2183.8 1592.0,2181.7 1684.1,2177.0" fill="none" stroke="#008000" stroke-width="2.08" stroke-linejoin="round"/>
<polyline points="117.4,2163.4 163.5,2166.9 255.6,2167.3 301.7,2170.4 393.9,2167.7 440.0,2169.6 532.1,2168.8 624.3,2182.3 670.4,2173.4 854.7,2175.0 900.8,2169.6 992.9,2177.3 1085.1,2176.1 1131.2,2176.1 1223.3,2173.6 1315.5,2174.0 1361.6,2174.8 1453.7,2175.7 1545.9,2175.3 1592.0,2169.7 1684.1,2174.8" fill="none" stroke="#00f" stroke-width="2.08" stroke-linejoin="round"/>
</g>
<path d="M163.5 2344.3v-8.3M163.5 2155.6v8.3M393.9 2344.3v-8.3M393.9 2155.6v8.3M624.3 2344.3v-8.3M624.3 2155.6v8.3M854.7 2344.3v-8.3M854.7 2155.6v8.3M1085.1 2344.3v-8.3M1085.1 2155.6v8.3M1315.5 2344.3v-8.3M1315.5 2155.6v8.3M1545.9 2344.3v-8.3M1545.9 2155.6v8.3M117.2 2155.6h8.3M1683.0 2155.6h-8.3M117.2 2176.5h8.3M1683.0 2176.5h-8.3M117.2 2197.5h8.3M1683.0 2197.5h-8.3M117.2 2218.5h8.3M1683.0 2218.5h-8.3M117.2 2239.5h8.3M1683.0 2239.5h-8.3M117.2 2260.4h8.3M1683.0 2260.4h-8.3M117.2 2281.4h8.3M1683.0 2281.4h-8.3M117.2 2302.4h8.3M1683.0 2302.4h-8.3M117.2 2323.4h8.3M1683.0 2323.4h-8.3M117.2 2344.4h8.3M1683.0 2344.4h-8.3" stroke="#000" stroke-width="1" fill="none" shape-rendering="crispEdges"/>
<rect x="117.2" y="2155.6" width="1565.8" height="188.8" fill="none" stroke="#000" stroke-width="2.08" shape-rendering="crispEdges"/>
<text x="163.5" y="2367.2" font-size="17.25" text-anchor="middle" textLength="101.4" lengthAdjust="spacingAndGlyphs">06/15 12:08</text>
<text x="393.9" y="2367.2" font-size="17.25" text-anchor="middle" textLength="101.4" lengthAdjust="spacingAndGlyphs">06/15 12:13</text>
<text x="624.3" y="2367.2" font-size="17.25" text-anchor="middle" textLength="101.4" lengthAdjust="spacingAndGlyphs">06/15 12:18</text>
<text x="854.7" y="2367.2" font-size="17.25" text-anchor="middle" textLength="101.4" lengthAdjust="spacingAndGlyphs">06/15 12:23</text>
<text x="1085.1" y="2367.2" font-size="17.25" text-anchor="middle" textLength="101.4" lengthAdjust="spacingAndGlyphs">06/15 12:28</text>
<text x="1315.5" y="2367.2" font-size="17.25" text-anchor="middle" textLength="101.4" lengthAdjust="spacingAndGlyphs">06/15 12:33</text>
<text x="1545.9" y="2367.2" font-size="17.25" text-anchor="middle" textLength="101.4" lengthAdjust="spacingAndGlyphs">06/15 12:38</text>
<text x="107.6" y="2160.3" font-size="17.25" text-anchor="end" textLength="21.2" lengthAdjust="spacingAndGlyphs">50</text>
<text x="107.6" y="2181.2" font-size="17.25" text-anchor="end">0</text>
<text x="107.6" y="2202.2" font-size="17.25" text-anchor="end" textLength="35.2" lengthAdjust="spacingAndGlyphs">−50</text>
<text x="107.6" y="2223.2" font-size="17.25" text-anchor="end" textLength="45.8" lengthAdjust="spacingAndGlyphs">−100</text>
<text x="107.6" y="2244.2" font-size="17.25" text-anchor="end" textLength="45.8" lengthAdjust="spacingAndGlyphs">−150</text>
<text x="107.6" y="2265.1" font-size="17.25" text-anchor="end" textLength="45.8" lengthAdjust="spacingAndGlyphs">−200</text>
<text x="107.6" y="2286.1" font-size="17.25" text-anchor="end" textLength="45.8" lengthAdjust="spacingAndGlyphs">−250</text>
<text x="107.6" y="2307.1" font-size="17.25" text-anchor="end" textLength="45.8" lengthAdjust="spacingAndGlyphs">−300</text>
<text x="107.6" y="2328.1" font-size="17.25" text-anchor="end" textLength="45.8" lengthAdjust="spacingAndGlyphs">−350</text>
<text x="107.6" y="2349.1" font-size="17.25" text-anchor="end" textLength="45.8" lengthAdjust="spacingAndGlyphs">−400</text>
<text x="900.1" y="2145.2" font-size="23.72" text-anchor="middle" textLength="371.2" lengthAdjust="spacingAndGlyphs">Solar Wind Velocity (GSE Frame)</text>
<text x="47.9" y="2252.6" font-size="17.25" text-anchor="middle" transform="rotate(-90 47.9 2252.6)" textLength="86.9" lengthAdjust="spacingAndGlyphs">Vsw(km/s)</text>
<rect x="1604.7" y="2162.8" width="71.4" height="72.1" fill="#fff" stroke="#000" stroke-width="2.08"/>
<line x1="1614.1" y1="2175.7" x2="1635.9" y2="2175.7" stroke="#f00" stroke-width="2.08"/>
<text x="1652.3" y="2180.4" font-size="15.09" textLength="18.6" lengthAdjust="spacingAndGlyphs">Vx</text>
<line x1="1614.1" y1="2197.9" x2="1635.9" y2="2197.9" stroke="#008000" stroke-width="2.08"/>
<text x="1652.3" y="2202.8" font-size="15.09" textLength="18.2" lengthAdjust="spacingAndGlyphs">Vy</text>
<line x1="1614.1" y1="2220.8" x2="1635.9" y2="2220.8" stroke="#00f" stroke-width="2.08"/>
<text x="1652.3" y="2225.5" font-size="15.09" textLength="17.6" lengthAdjust="spacingAndGlyphs">Vz</text>
</g>
<g id="t5">
<g clip-path="url(#t4)">
<polyline points="117.4,2609.5 163.5,2611.4 209.6,2610.2 255.6,2608.3 301.7,2606.0 347.8,2605.6 393.9,2603.3 440.0,2605.2 486.0,2605.2 532.1,2604.9 578.2,2592.9 624.3,2582.6 670.4,2613.3 716.4,2617.1 762.5,2618.7 808.6,2616.0 854.7,2613.3 900.8,2608.7 946.8,2611.0 992.9,2610.6 1039.0,2599.1 1085.1,2592.9 1131.2,2596.7 1177.2,2603.4 1223.3,2606.4 1269.4,2605.2 1315.5,2603.9 1361.6,2603.4 1407.6,2604.3 1453.7,2605.2 1499.8,2609.0 1545.9,2613.3 1592.0,2607.7 1638.0,2604.7 1684.1,2604.7" fill="none" stroke="#00f" stroke-width="2.08" stroke-linejoin="round"/>
</g>
<path d="M163.5 2627.8v-8.3M163.5 2439.1v8.3M393.9 2627.8v-8.3M393.9 2439.1v8.3M624.3 2627.8v-8.3M624.3 2439.1v8.3M854.7 2627.8v-8.3M854.7 2439.1v8.3M1085.1 2627.8v-8.3M1085.1 2439.1v8.3M1315.5 2627.8v-8.3M1315.5 2439.1v8.3M1545.9 2627.8v-8.3M1545.9 2439.1v8.3M117.2 2439.0h8.3M1683.0 2439.0h-8.3M117.2 2476.8h8.3M1683.0 2476.8h-8.3M117.2 2514.6h8.3M1683.0 2514.6h-8.3M117.2 2552.3h8.3M1683.0 2552.3h-8.3M117.2 2590.1h8.3M1683.0 2590.1h-8.3M117.2 2627.8h8.3M1683.0 2627.8h-8.3" stroke="#000" stroke-width="1" fill="none" shape-rendering="crispEdges"/>
<rect x="117.2" y="2439.1" width="1565.8" height="188.8" fill="none" stroke="#000" stroke-width="2.08" shape-rendering="crispEdges"/>
<text x="163.5" y="2650.7" font-size="17.25" text-anchor="middle" textLength="101.4" lengthAdjust="spacingAndGlyphs">06/15 12:08</text>
<text x="393.9" y="2650.7" font-size="17.25" text-anchor="middle" textLength="101.4" lengthAdjust="spacingAndGlyphs">06/15 12:13</text>
<text x="624.3" y="2650.7" font-size="17.25" text-anchor="middle" textLength="101.4" lengthAdjust="spacingAndGlyphs">06/15 12:18</text>
<text x="854.7" y="2650.7" font-size="17.25" text-anchor="middle" textLength="101.4" lengthAdjust="spacingAndGlyphs">06/15 12:23</text>
<text x="1085.1" y="2650.7" font-size="17.25" text-anchor="middle" textLength="101.4" lengthAdjust="spacingAndGlyphs">06/15 12:28</text>
<text x="1315.5" y="2650.7" font-size="17.25" text-anchor="middle" textLength="101.4" lengthAdjust="spacingAndGlyphs">06/15 12:33</text>
<text x="1545.9" y="2650.7" font-size="17.25" text-anchor="middle" textLength="101.4" lengthAdjust="spacingAndGlyphs">06/15 12:38</text>
<text x="107.6" y="2443.7" font-size="17.25" text-anchor="end">5</text>
<text x="107.6" y="2481.5" font-size="17.25" text-anchor="end">4</text>
<text x="107.6" y="2519.3" font-size="17.25" text-anchor="end">3</text>
<text x="107.6" y="2557.0" font-size="17.25" text-anchor="end">2</text>
<text x="107.6" y="2594.8" font-size="17.25" text-anchor="end">1</text>
<text x="107.6" y="2632.5" font-size="17.25" text-anchor="end">0</text>
<text x="900.1" y="2428.7" font-size="23.72" text-anchor="middle" textLength="142.7" lengthAdjust="spacingAndGlyphs">Plasma Beta</text>
<g transform="rotate(-90 79.6 2534.2)" fill="#333">
<text x="45.7" y="2534.2" font-size="16.67" fill="#444" style="font-family:'Liberation Serif',serif" font-style="italic">β</text>
<text x="55.0" y="2538.0" font-size="11.70" fill="#444" style="font-family:'Liberation Serif',serif" font-style="italic">p</text>
<text x="66.5" y="2534.2" font-size="17.25" textLength="31.4" lengthAdjust="spacingAndGlyphs">and</text>
<text x="103.5" y="2534.2" font-size="16.67" fill="#444" style="font-family:'Liberation Serif',serif" font-style="italic">β</text>
</g>
<rect x="1607.9" y="2445.8" width="68.2" height="31.2" fill="#fff" stroke="#000" stroke-width="2.08"/>
<line x1="1617.0" y1="2459.9" x2="1640.0" y2="2459.9" stroke="#00f" stroke-width="2.08"/>
<text x="1656.5" y="2464.1" font-size="14.58" fill="#444" style="font-family:'Liberation Serif',serif" font-style="italic">β</text>
<text x="1664.5" y="2467.5" font-size="10.20" fill="#444" style="font-family:'Liberation Serif',serif" font-style="italic">p</text>
</g>
<g id="t6">
<g clip-path="url(#t5)">
<polyline points="117.4,2866.0 163.5,2867.9 255.6,2863.3 301.7,2864.5 393.9,2862.9 440.0,2865.6 532.1,2863.3 624.3,2854.5 670.4,2867.2 762.5,2879.1 854.7,2869.9 900.8,2866.4 992.9,2869.1 1085.1,2859.5 1131.2,2861.8 1223.3,2866.8 1361.6,2863.4 1453.7,2864.2 1545.9,2871.9 1592.0,2866.8 1684.1,2870.2" fill="none" stroke="#00f" stroke-width="2.08" stroke-linejoin="round"/>
</g>
<path d="M163.5 2911.3v-8.3M163.5 2722.6v8.3M393.9 2911.3v-8.3M393.9 2722.6v8.3M624.3 2911.3v-8.3M624.3 2722.6v8.3M854.7 2911.3v-8.3M854.7 2722.6v8.3M1085.1 2911.3v-8.3M1085.1 2722.6v8.3M1315.5 2911.3v-8.3M1315.5 2722.6v8.3M1545.9 2911.3v-8.3M1545.9 2722.6v8.3M117.2 2722.6h8.3M1683.0 2722.6h-8.3M117.2 2754.0h8.3M1683.0 2754.0h-8.3M117.2 2785.5h8.3M1683.0 2785.5h-8.3M117.2 2817.0h8.3M1683.0 2817.0h-8.3M117.2 2848.4h8.3M1683.0 2848.4h-8.3M117.2 2879.9h8.3M1683.0 2879.9h-8.3M117.2 2911.3h8.3M1683.0 2911.3h-8.3" stroke="#000" stroke-width="1" fill="none" shape-rendering="crispEdges"/>
<rect x="117.2" y="2722.6" width="1565.8" height="188.8" fill="none" stroke="#000" stroke-width="2.08" shape-rendering="crispEdges"/>
<text x="163.5" y="2934.2" font-size="17.25" text-anchor="middle" textLength="101.4" lengthAdjust="spacingAndGlyphs">06/15 12:08</text>
<text x="393.9" y="2934.2" font-size="17.25" text-anchor="middle" textLength="101.4" lengthAdjust="spacingAndGlyphs">06/15 12:13</text>
<text x="624.3" y="2934.2" font-size="17.25" text-anchor="middle" textLength="101.4" lengthAdjust="spacingAndGlyphs">06/15 12:18</text>
<text x="854.7" y="2934.2" font-size="17.25" text-anchor="middle" textLength="101.4" lengthAdjust="spacingAndGlyphs">06/15 12:23</text>
<text x="1085.1" y="2934.2" font-size="17.25" text-anchor="middle" textLength="101.4" lengthAdjust="spacingAndGlyphs">06/15 12:28</text>
<text x="1315.5" y="2934.2" font-size="17.25" text-anchor="middle" textLength="101.4" lengthAdjust="spacingAndGlyphs">06/15 12:33</text>
<text x="1545.9" y="2934.2" font-size="17.25" text-anchor="middle" textLength="101.4" lengthAdjust="spacingAndGlyphs">06/15 12:38</text>
<text x="107.6" y="2727.3" font-size="17.25" text-anchor="end" textLength="21.2" lengthAdjust="spacingAndGlyphs">30</text>
<text x="107.6" y="2758.7" font-size="17.25" text-anchor="end" textLength="21.2" lengthAdjust="spacingAndGlyphs">25</text>
<text x="107.6" y="2790.2" font-size="17.25" text-anchor="end" textLength="21.2" lengthAdjust="spacingAndGlyphs">20</text>
<text x="107.6" y="2821.7" font-size="17.25" text-anchor="end" textLength="21.2" lengthAdjust="spacingAndGlyphs">15</text>
<text x="107.6" y="2853.1" font-size="17.25" text-anchor="end" textLength="21.2" lengthAdjust="spacingAndGlyphs">10</text>
<text x="107.6" y="2884.6" font-size="17.25" text-anchor="end">5</text>
<text x="107.6" y="2916.0" font-size="17.25" text-anchor="end">0</text>
<text x="900.1" y="2712.2" font-size="23.72" text-anchor="middle" textLength="267.7" lengthAdjust="spacingAndGlyphs">Proton Number Density</text>
<text x="73.8" y="2820.0" font-size="17.25" text-anchor="middle" transform="rotate(-90 73.8 2820.0)" textLength="74.0" lengthAdjust="spacingAndGlyphs">Np(#/cc)</text>
</g>
<g id="t7">
<g clip-path="url(#t6)">
<polyline points="117.4,3171.4 163.5,3172.5 255.6,3169.8 301.7,3167.2 393.9,3165.2 440.0,3166.8 532.1,3171.4 624.3,3162.5 670.4,3176.8 762.5,3182.5 854.7,3175.2 900.8,3173.7 992.9,3175.6 1085.1,3165.6 1131.2,3167.5 1223.3,3172.0 1315.5,3169.9 1453.7,3170.7 1545.9,3177.5 1592.0,3173.3 1684.1,3169.4" fill="none" stroke="#00f" stroke-width="2.08" stroke-linejoin="round"/>
</g>
<path d="M163.5 3194.8v-8.3M163.5 3006.1v8.3M393.9 3194.8v-8.3M393.9 3006.1v8.3M624.3 3194.8v-8.3M624.3 3006.1v8.3M854.7 3194.8v-8.3M854.7 3006.1v8.3M1085.1 3194.8v-8.3M1085.1 3006.1v8.3M1315.5 3194.8v-8.3M1315.5 3006.1v8.3M1545.9 3194.8v-8.3M1545.9 3006.1v8.3M117.2 3006.0h8.3M1683.0 3006.0h-8.3M117.2 3043.8h8.3M1683.0 3043.8h-8.3M117.2 3081.6h8.3M1683.0 3081.6h-8.3M117.2 3119.3h8.3M1683.0 3119.3h-8.3M117.2 3157.1h8.3M1683.0 3157.1h-8.3M117.2 3194.8h8.3M1683.0 3194.8h-8.3" stroke="#000" stroke-width="1" fill="none" shape-rendering="crispEdges"/>
<rect x="117.2" y="3006.1" width="1565.8" height="188.8" fill="none" stroke="#000" stroke-width="2.08" shape-rendering="crispEdges"/>
<text x="163.5" y="3217.7" font-size="17.25" text-anchor="middle" textLength="101.4" lengthAdjust="spacingAndGlyphs">06/15 12:08</text>
<text x="393.9" y="3217.7" font-size="17.25" text-anchor="middle" textLength="101.4" lengthAdjust="spacingAndGlyphs">06/15 12:13</text>
<text x="624.3" y="3217.7" font-size="17.25" text-anchor="middle" textLength="101.4" lengthAdjust="spacingAndGlyphs">06/15 12:18</text>
<text x="854.7" y="3217.7" font-size="17.25" text-anchor="middle" textLength="101.4" lengthAdjust="spacingAndGlyphs">06/15 12:23</text>
<text x="1085.1" y="3217.7" font-size="17.25" text-anchor="middle" textLength="101.4" lengthAdjust="spacingAndGlyphs">06/15 12:28</text>
<text x="1315.5" y="3217.7" font-size="17.25" text-anchor="middle" textLength="101.4" lengthAdjust="spacingAndGlyphs">06/15 12:33</text>
<text x="1545.9" y="3217.7" font-size="17.25" text-anchor="middle" textLength="101.4" lengthAdjust="spacingAndGlyphs">06/15 12:38</text>
<text x="107.6" y="3010.7" font-size="17.25" text-anchor="end" textLength="26.5" lengthAdjust="spacingAndGlyphs">0.5</text>
<text x="107.6" y="3048.5" font-size="17.25" text-anchor="end" textLength="26.5" lengthAdjust="spacingAndGlyphs">0.4</text>
<text x="107.6" y="3086.3" font-size="17.25" text-anchor="end" textLength="26.5" lengthAdjust="spacingAndGlyphs">0.3</text>
<text x="107.6" y="3124.0" font-size="17.25" text-anchor="end" textLength="26.5" lengthAdjust="spacingAndGlyphs">0.2</text>
<text x="107.6" y="3161.8" font-size="17.25" text-anchor="end" textLength="26.5" lengthAdjust="spacingAndGlyphs">0.1</text>
<text x="107.6" y="3199.5" font-size="17.25" text-anchor="end" textLength="26.5" lengthAdjust="spacingAndGlyphs">0.0</text>
<text x="727.5" y="2995.9" font-size="23.72" textLength="276.8" lengthAdjust="spacingAndGlyphs">Proton Temperature and</text>
<text x="1016.0" y="2995.9" font-size="22.92" style="font-family:'Liberation Serif',serif" font-style="italic">T</text>
<text x="1029.0" y="3000.6" font-size="16.00" style="font-family:'Liberation Serif',serif" font-style="italic">e</text>
<text x="1038.0" y="2995.9" font-size="22.92" style="font-family:'Liberation Serif',serif" font-style="italic">/</text>
<text x="1047.0" y="2995.9" font-size="22.92" style="font-family:'Liberation Serif',serif" font-style="italic">T</text>
<text x="1060.0" y="3000.6" font-size="16.00" style="font-family:'Liberation Serif',serif" font-style="italic">p</text>
<g transform="rotate(-90 65.3 3099.6)">
<text x="33.5" y="3099.6" font-size="17.25" textLength="27.3" lengthAdjust="spacingAndGlyphs">Tp(</text>
<text x="59.3" y="3099.6" font-size="15.84" style="font-family:'Liberation Serif',serif">10</text>
<text x="75.0" y="3093.0" font-size="11.00" style="font-family:'Liberation Serif',serif">6</text>
<text x="80.5" y="3099.6" font-size="17.25" textLength="17.4" lengthAdjust="spacingAndGlyphs">K)</text>
</g>
<rect x="123.9" y="3012.7" width="71.5" height="27.4" fill="#fff" stroke="#000" stroke-width="2.08"/>
<line x1="133.9" y1="3025.8" x2="155.9" y2="3025.8" stroke="#00f" stroke-width="2.08"/>
<text x="170.6" y="3030.9" font-size="16.56" textLength="19.9" lengthAdjust="spacingAndGlyphs">Tp</text>
</g>
</g>
</svg>
</body></html>
